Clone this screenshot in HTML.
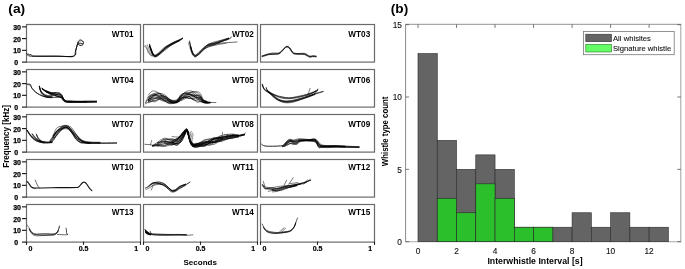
<!DOCTYPE html>
<html><head><meta charset="utf-8"><style>
html,body{margin:0;padding:0;background:#fff;overflow:hidden;}
svg{display:block;will-change:transform;}
text{font-family:"Liberation Sans",sans-serif;fill:#000;}
.yt{font-size:7px;font-weight:bold;fill:#000;stroke:#000;stroke-width:0.25px;}
.xt{font-size:7px;font-weight:bold;fill:#000;stroke:#000;stroke-width:0.2px;}
.wt{font-size:8.2px;font-weight:bold;}
.bt{font-size:8.3px;fill:#111;stroke:#111;stroke-width:0.12px;}
.lg{font-size:7.9px;fill:#111;stroke:#111;stroke-width:0.1px;}
.pl{font-size:13.2px;font-weight:bold;}
.ax{font-size:8.6px;font-weight:bold;}
</style></head><body>
<svg width="685" height="269" viewBox="0 0 685 269">
<rect width="685" height="269" fill="#fff"/>
<rect x="26.5" y="24.5" width="114.0" height="37.6" fill="none" stroke="#6a6a6a" stroke-width="1.2"/>
<rect x="143.5" y="24.5" width="114.0" height="37.6" fill="none" stroke="#6a6a6a" stroke-width="1.2"/>
<rect x="260.5" y="24.5" width="114.0" height="37.6" fill="none" stroke="#6a6a6a" stroke-width="1.2"/>
<rect x="26.5" y="69.5" width="114.0" height="37.6" fill="none" stroke="#6a6a6a" stroke-width="1.2"/>
<rect x="143.5" y="69.5" width="114.0" height="37.6" fill="none" stroke="#6a6a6a" stroke-width="1.2"/>
<rect x="260.5" y="69.5" width="114.0" height="37.6" fill="none" stroke="#6a6a6a" stroke-width="1.2"/>
<rect x="26.5" y="114.5" width="114.0" height="37.6" fill="none" stroke="#6a6a6a" stroke-width="1.2"/>
<rect x="143.5" y="114.5" width="114.0" height="37.6" fill="none" stroke="#6a6a6a" stroke-width="1.2"/>
<rect x="260.5" y="114.5" width="114.0" height="37.6" fill="none" stroke="#6a6a6a" stroke-width="1.2"/>
<rect x="26.5" y="159.5" width="114.0" height="37.6" fill="none" stroke="#6a6a6a" stroke-width="1.2"/>
<rect x="143.5" y="159.5" width="114.0" height="37.6" fill="none" stroke="#6a6a6a" stroke-width="1.2"/>
<rect x="260.5" y="159.5" width="114.0" height="37.6" fill="none" stroke="#6a6a6a" stroke-width="1.2"/>
<rect x="26.5" y="204.5" width="114.0" height="37.6" fill="none" stroke="#6a6a6a" stroke-width="1.2"/>
<rect x="143.5" y="204.5" width="114.0" height="37.6" fill="none" stroke="#6a6a6a" stroke-width="1.2"/>
<rect x="260.5" y="204.5" width="114.0" height="37.6" fill="none" stroke="#6a6a6a" stroke-width="1.2"/>
<line x1="22" y1="62.10" x2="26.5" y2="62.10" stroke="#1a1a1a" stroke-width="1.15"/>
<text x="14.2" y="65.10" class="yt" text-anchor="start">0</text>
<line x1="22" y1="50.35" x2="26.5" y2="50.35" stroke="#1a1a1a" stroke-width="1.15"/>
<text x="21" y="53.45" class="yt" text-anchor="end">10</text>
<line x1="22" y1="38.60" x2="26.5" y2="38.60" stroke="#1a1a1a" stroke-width="1.15"/>
<text x="21" y="41.70" class="yt" text-anchor="end">20</text>
<line x1="22" y1="26.85" x2="26.5" y2="26.85" stroke="#1a1a1a" stroke-width="1.15"/>
<text x="21" y="29.95" class="yt" text-anchor="end">30</text>
<line x1="22" y1="107.10" x2="26.5" y2="107.10" stroke="#1a1a1a" stroke-width="1.15"/>
<text x="14.2" y="110.10" class="yt" text-anchor="start">0</text>
<line x1="22" y1="95.35" x2="26.5" y2="95.35" stroke="#1a1a1a" stroke-width="1.15"/>
<text x="21" y="98.45" class="yt" text-anchor="end">10</text>
<line x1="22" y1="83.60" x2="26.5" y2="83.60" stroke="#1a1a1a" stroke-width="1.15"/>
<text x="21" y="86.70" class="yt" text-anchor="end">20</text>
<line x1="22" y1="71.85" x2="26.5" y2="71.85" stroke="#1a1a1a" stroke-width="1.15"/>
<text x="21" y="74.95" class="yt" text-anchor="end">30</text>
<line x1="22" y1="152.10" x2="26.5" y2="152.10" stroke="#1a1a1a" stroke-width="1.15"/>
<text x="14.2" y="155.10" class="yt" text-anchor="start">0</text>
<line x1="22" y1="140.35" x2="26.5" y2="140.35" stroke="#1a1a1a" stroke-width="1.15"/>
<text x="21" y="143.45" class="yt" text-anchor="end">10</text>
<line x1="22" y1="128.60" x2="26.5" y2="128.60" stroke="#1a1a1a" stroke-width="1.15"/>
<text x="21" y="131.70" class="yt" text-anchor="end">20</text>
<line x1="22" y1="116.85" x2="26.5" y2="116.85" stroke="#1a1a1a" stroke-width="1.15"/>
<text x="21" y="119.95" class="yt" text-anchor="end">30</text>
<line x1="22" y1="197.10" x2="26.5" y2="197.10" stroke="#1a1a1a" stroke-width="1.15"/>
<text x="14.2" y="200.10" class="yt" text-anchor="start">0</text>
<line x1="22" y1="185.35" x2="26.5" y2="185.35" stroke="#1a1a1a" stroke-width="1.15"/>
<text x="21" y="188.45" class="yt" text-anchor="end">10</text>
<line x1="22" y1="173.60" x2="26.5" y2="173.60" stroke="#1a1a1a" stroke-width="1.15"/>
<text x="21" y="176.70" class="yt" text-anchor="end">20</text>
<line x1="22" y1="161.85" x2="26.5" y2="161.85" stroke="#1a1a1a" stroke-width="1.15"/>
<text x="21" y="164.95" class="yt" text-anchor="end">30</text>
<line x1="22" y1="242.10" x2="26.5" y2="242.10" stroke="#1a1a1a" stroke-width="1.15"/>
<text x="14.2" y="245.10" class="yt" text-anchor="start">0</text>
<line x1="22" y1="230.35" x2="26.5" y2="230.35" stroke="#1a1a1a" stroke-width="1.15"/>
<text x="21" y="233.45" class="yt" text-anchor="end">10</text>
<line x1="22" y1="218.60" x2="26.5" y2="218.60" stroke="#1a1a1a" stroke-width="1.15"/>
<text x="21" y="221.70" class="yt" text-anchor="end">20</text>
<line x1="22" y1="206.85" x2="26.5" y2="206.85" stroke="#1a1a1a" stroke-width="1.15"/>
<text x="21" y="209.95" class="yt" text-anchor="end">30</text>
<line x1="26.50" y1="241.60" x2="26.50" y2="244.90" stroke="#222" stroke-width="1.1"/>
<line x1="83.50" y1="241.60" x2="83.50" y2="244.90" stroke="#222" stroke-width="1.1"/>
<line x1="140.50" y1="241.60" x2="140.50" y2="244.90" stroke="#222" stroke-width="1.1"/>
<text x="30.5" y="250.6" class="xt" text-anchor="middle">0</text>
<text x="83.5" y="250.6" class="xt" text-anchor="middle">0.5</text>
<text x="136.3" y="250.6" class="xt" text-anchor="middle">1</text>
<line x1="143.50" y1="241.60" x2="143.50" y2="244.90" stroke="#222" stroke-width="1.1"/>
<line x1="200.50" y1="241.60" x2="200.50" y2="244.90" stroke="#222" stroke-width="1.1"/>
<line x1="257.50" y1="241.60" x2="257.50" y2="244.90" stroke="#222" stroke-width="1.1"/>
<text x="147.5" y="250.6" class="xt" text-anchor="middle">0</text>
<text x="200.5" y="250.6" class="xt" text-anchor="middle">0.5</text>
<text x="253.3" y="250.6" class="xt" text-anchor="middle">1</text>
<line x1="260.50" y1="241.60" x2="260.50" y2="244.90" stroke="#222" stroke-width="1.1"/>
<line x1="317.50" y1="241.60" x2="317.50" y2="244.90" stroke="#222" stroke-width="1.1"/>
<line x1="374.50" y1="241.60" x2="374.50" y2="244.90" stroke="#222" stroke-width="1.1"/>
<text x="264.5" y="250.6" class="xt" text-anchor="middle">0</text>
<text x="317.5" y="250.6" class="xt" text-anchor="middle">0.5</text>
<text x="370.3" y="250.6" class="xt" text-anchor="middle">1</text>
<path d="M26.80 53.40 C26.97 53.63 27.47 54.72 27.80 54.80 C28.13 54.88 28.47 53.83 28.80 53.90 C29.13 53.97 29.47 55.13 29.80 55.20 C30.13 55.27 30.47 54.23 30.80 54.30 C31.13 54.37 31.35 55.32 31.80 55.60 C32.25 55.88 32.13 55.92 33.50 56.00 C34.87 56.08 36.42 56.08 40.00 56.10 C43.58 56.12 49.40 56.10 55.00 56.10 C60.60 56.10 70.13 57.07 73.60 56.10 C77.07 55.13 75.20 52.17 75.80 50.30 C76.40 48.43 76.82 46.32 77.20 44.90 C77.58 43.48 77.73 42.57 78.10 41.80 C78.47 41.03 78.97 40.60 79.40 40.30 C79.83 40.00 80.18 39.90 80.70 40.00 C81.22 40.10 82.05 40.45 82.50 40.90 C82.95 41.35 83.32 42.10 83.40 42.70 C83.48 43.30 83.37 44.05 83.00 44.50 C82.63 44.95 81.88 45.33 81.20 45.40 C80.52 45.47 79.35 45.20 78.90 44.90 C78.45 44.60 78.20 43.87 78.50 43.60 C78.80 43.33 80.03 43.27 80.70 43.30 C81.37 43.33 82.20 43.72 82.50 43.80" fill="none" stroke="#000" stroke-width="0.90" stroke-linejoin="round" stroke-linecap="round"/>
<path d="M28.00 55.30 C28.83 55.47 27.67 56.13 33.00 56.30 C38.33 56.47 53.28 56.28 60.00 56.30 C66.72 56.32 70.72 57.28 73.30 56.40 C75.88 55.52 74.88 52.77 75.50 51.00 C76.12 49.23 76.48 47.22 77.00 45.80 C77.52 44.38 78.33 43.05 78.60 42.50" fill="none" stroke="#000" stroke-width="0.80" stroke-linejoin="round" stroke-linecap="round"/>
<path d="M77.80 43.20 C78.08 42.88 78.88 41.67 79.50 41.30 C80.12 40.93 80.78 40.88 81.50 41.00 C82.22 41.12 83.42 41.83 83.80 42.00" fill="none" stroke="#444" stroke-width="0.50" stroke-linejoin="round" stroke-linecap="round"/>
<path d="M149.50 44.10 C149.72 44.72 150.33 46.51 150.80 47.81 C151.27 49.11 151.80 50.82 152.30 51.91 C152.80 53.00 153.27 53.84 153.80 54.35 C154.33 54.86 154.80 55.08 155.50 54.96 C156.20 54.84 157.17 54.19 158.00 53.63 C158.83 53.08 159.28 52.67 160.50 51.61 C161.72 50.56 163.57 48.67 165.30 47.32 C167.03 45.97 169.23 44.50 170.90 43.51 C172.57 42.52 173.82 42.03 175.30 41.38 C176.78 40.74 178.58 40.15 179.80 39.62 C181.02 39.10 182.13 38.46 182.60 38.23" fill="none" stroke="#000" stroke-width="0.50" stroke-linejoin="round" stroke-linecap="round"/>
<path d="M150.80 48.79 C151.05 49.47 151.80 51.79 152.30 52.87 C152.80 53.95 153.27 54.78 153.80 55.25 C154.33 55.72 154.80 55.94 155.50 55.70 C156.20 55.46 157.17 54.59 158.00 53.79 C158.83 52.98 159.28 52.07 160.50 50.88 C161.72 49.69 163.57 47.72 165.30 46.63 C167.03 45.53 169.23 45.06 170.90 44.31 C172.57 43.57 173.82 42.93 175.30 42.14 C176.78 41.36 178.58 40.30 179.80 39.60 C181.02 38.90 182.13 38.23 182.60 37.95" fill="none" stroke="#000" stroke-width="0.50" stroke-linejoin="round" stroke-linecap="round"/>
<path d="M149.50 44.61 C149.72 45.26 150.33 47.16 150.80 48.51 C151.27 49.86 151.80 51.58 152.30 52.70 C152.80 53.82 153.27 54.69 153.80 55.24 C154.33 55.79 154.80 56.06 155.50 55.98 C156.20 55.91 157.17 55.36 158.00 54.79 C158.83 54.22 159.28 53.75 160.50 52.57 C161.72 51.38 163.57 49.13 165.30 47.69 C167.03 46.26 169.23 44.93 170.90 43.94 C172.57 42.96 173.82 42.47 175.30 41.78 C176.78 41.10 179.05 40.17 179.80 39.84" fill="none" stroke="#000" stroke-width="0.50" stroke-linejoin="round" stroke-linecap="round"/>
<path d="M149.50 44.71 C149.72 45.32 150.33 47.09 150.80 48.36 C151.27 49.63 151.80 51.28 152.30 52.34 C152.80 53.41 153.27 54.24 153.80 54.74 C154.33 55.24 154.80 55.46 155.50 55.37 C156.20 55.27 157.17 54.68 158.00 54.17 C158.83 53.66 159.28 53.33 160.50 52.30 C161.72 51.26 163.57 49.36 165.30 47.97 C167.03 46.58 169.23 44.99 170.90 43.96 C172.57 42.93 173.82 42.45 175.30 41.79 C176.78 41.12 178.58 40.50 179.80 39.95 C181.02 39.39 182.13 38.71 182.60 38.46" fill="none" stroke="#000" stroke-width="0.50" stroke-linejoin="round" stroke-linecap="round"/>
<path d="M150.80 49.41 C151.05 50.02 151.80 52.13 152.30 53.11 C152.80 54.08 153.27 54.83 153.80 55.25 C154.33 55.68 154.80 55.80 155.50 55.67 C156.20 55.53 157.17 54.90 158.00 54.43 C158.83 53.96 159.28 53.88 160.50 52.86 C161.72 51.83 163.57 49.69 165.30 48.27 C167.03 46.85 169.23 45.27 170.90 44.34 C172.57 43.41 173.82 43.40 175.30 42.69 C176.78 41.98 179.05 40.51 179.80 40.08" fill="none" stroke="#000" stroke-width="0.50" stroke-linejoin="round" stroke-linecap="round"/>
<path d="M149.50 45.56 C149.72 46.22 150.33 48.16 150.80 49.49 C151.27 50.82 151.80 52.46 152.30 53.56 C152.80 54.65 153.27 55.51 153.80 56.06 C154.33 56.61 154.80 56.89 155.50 56.84 C156.20 56.79 157.17 56.33 158.00 55.78 C158.83 55.23 159.28 54.78 160.50 53.55 C161.72 52.33 163.57 49.94 165.30 48.45 C167.03 46.96 169.23 45.63 170.90 44.61 C172.57 43.59 173.82 43.08 175.30 42.35 C176.78 41.62 178.58 40.85 179.80 40.24 C181.02 39.63 182.13 38.96 182.60 38.70" fill="none" stroke="#000" stroke-width="0.50" stroke-linejoin="round" stroke-linecap="round"/>
<path d="M149.50 45.95 C149.72 46.57 150.33 48.41 150.80 49.66 C151.27 50.91 151.80 52.45 152.30 53.46 C152.80 54.48 153.27 55.27 153.80 55.73 C154.33 56.19 154.80 56.39 155.50 56.21 C156.20 56.02 157.17 55.29 158.00 54.63 C158.83 53.96 159.28 53.30 160.50 52.22 C161.72 51.13 163.57 49.29 165.30 48.14 C167.03 46.98 169.23 46.17 170.90 45.30 C172.57 44.44 173.82 43.78 175.30 42.95 C176.78 42.12 178.58 41.05 179.80 40.32 C181.02 39.58 182.13 38.83 182.60 38.53" fill="none" stroke="#000" stroke-width="0.50" stroke-linejoin="round" stroke-linecap="round"/>
<path d="M149.50 46.23 C149.72 46.86 150.33 48.79 150.80 50.06 C151.27 51.33 151.80 52.85 152.30 53.85 C152.80 54.85 153.27 55.62 153.80 56.06 C154.33 56.49 154.80 56.65 155.50 56.44 C156.20 56.24 157.17 55.44 158.00 54.83 C158.83 54.21 159.28 53.68 160.50 52.75 C161.72 51.82 163.57 50.51 165.30 49.24 C167.03 47.98 169.23 46.29 170.90 45.16 C172.57 44.02 173.82 43.22 175.30 42.44 C176.78 41.65 179.05 40.78 179.80 40.45" fill="none" stroke="#000" stroke-width="0.50" stroke-linejoin="round" stroke-linecap="round"/>
<path d="M149.50 46.75 C149.72 47.37 150.33 49.22 150.80 50.45 C151.27 51.67 151.80 53.12 152.30 54.10 C152.80 55.07 153.27 55.83 153.80 56.27 C154.33 56.71 154.80 56.88 155.50 56.75 C156.20 56.63 157.17 56.01 158.00 55.52 C158.83 55.03 159.28 54.75 160.50 53.83 C161.72 52.91 163.57 51.38 165.30 49.99 C167.03 48.60 169.23 46.69 170.90 45.51 C172.57 44.32 173.82 43.66 175.30 42.87 C176.78 42.09 179.05 41.13 179.80 40.78" fill="none" stroke="#000" stroke-width="0.50" stroke-linejoin="round" stroke-linecap="round"/>
<path d="M144.10 46.20 C144.47 46.47 145.65 46.78 146.30 47.80 C146.95 48.82 147.25 51.00 148.00 52.30 C148.75 53.60 149.88 54.95 150.80 55.60 C151.72 56.25 153.05 56.10 153.50 56.20" fill="none" stroke="#333" stroke-width="0.50" stroke-linejoin="round" stroke-linecap="round"/>
<path d="M145.50 45.30 C145.78 45.83 146.62 47.25 147.20 48.50 C147.78 49.75 148.28 51.58 149.00 52.80 C149.72 54.02 151.08 55.30 151.50 55.80" fill="none" stroke="#222" stroke-width="0.50" stroke-linejoin="round" stroke-linecap="round"/>
<path d="M147.20 44.80 C147.43 45.42 148.08 47.13 148.60 48.50 C149.12 49.87 149.60 51.77 150.30 53.00 C151.00 54.23 152.38 55.42 152.80 55.90" fill="none" stroke="#222" stroke-width="0.50" stroke-linejoin="round" stroke-linecap="round"/>
<path d="M189.50 40.89 C189.68 41.73 190.15 44.14 190.60 45.94 C191.05 47.75 191.65 50.27 192.20 51.71 C192.75 53.16 193.33 54.03 193.90 54.61 C194.47 55.20 194.67 55.80 195.60 55.24 C196.53 54.69 198.10 52.61 199.50 51.31 C200.90 50.01 202.52 48.58 204.00 47.42 C205.48 46.26 206.73 45.25 208.40 44.35 C210.07 43.45 211.77 42.72 214.00 42.02 C216.23 41.32 219.38 40.81 221.80 40.15 C224.22 39.50 227.38 38.42 228.50 38.08" fill="none" stroke="#000" stroke-width="0.50" stroke-linejoin="round" stroke-linecap="round"/>
<path d="M190.60 46.16 C190.87 47.05 191.65 50.15 192.20 51.50 C192.75 52.86 193.33 53.67 193.90 54.30 C194.47 54.93 194.67 55.52 195.60 55.28 C196.53 55.03 198.10 54.06 199.50 52.83 C200.90 51.59 202.52 49.29 204.00 47.85 C205.48 46.41 206.73 44.92 208.40 44.18 C210.07 43.44 211.77 44.07 214.00 43.41 C216.23 42.74 219.38 41.00 221.80 40.19 C224.22 39.38 227.38 38.82 228.50 38.54" fill="none" stroke="#000" stroke-width="0.50" stroke-linejoin="round" stroke-linecap="round"/>
<path d="M190.60 46.19 C190.87 47.09 191.65 50.23 192.20 51.60 C192.75 52.96 193.33 53.77 193.90 54.39 C194.47 55.00 194.67 55.57 195.60 55.30 C196.53 55.04 198.10 53.92 199.50 52.78 C200.90 51.63 202.52 49.78 204.00 48.41 C205.48 47.04 206.73 45.51 208.40 44.57 C210.07 43.63 211.77 43.37 214.00 42.78 C216.23 42.19 219.38 41.80 221.80 41.04 C224.22 40.27 227.38 38.64 228.50 38.17" fill="none" stroke="#000" stroke-width="0.50" stroke-linejoin="round" stroke-linecap="round"/>
<path d="M189.50 41.82 C189.68 42.67 190.15 45.10 190.60 46.89 C191.05 48.68 191.65 51.14 192.20 52.54 C192.75 53.94 193.33 54.72 193.90 55.29 C194.47 55.87 194.67 56.44 195.60 55.98 C196.53 55.51 198.10 53.90 199.50 52.51 C200.90 51.12 202.52 48.91 204.00 47.64 C205.48 46.37 206.73 45.53 208.40 44.88 C210.07 44.23 211.77 44.42 214.00 43.75 C216.23 43.08 219.38 41.76 221.80 40.84 C224.22 39.93 227.38 38.69 228.50 38.26" fill="none" stroke="#000" stroke-width="0.50" stroke-linejoin="round" stroke-linecap="round"/>
<path d="M189.50 41.72 C189.68 42.57 190.15 44.99 190.60 46.80 C191.05 48.61 191.65 51.11 192.20 52.57 C192.75 54.03 193.33 54.89 193.90 55.54 C194.47 56.19 194.67 56.78 195.60 56.48 C196.53 56.18 198.10 55.02 199.50 53.76 C200.90 52.50 202.52 50.35 204.00 48.94 C205.48 47.53 206.73 46.20 208.40 45.29 C210.07 44.38 211.77 44.09 214.00 43.48 C216.23 42.88 219.38 42.41 221.80 41.65 C224.22 40.88 227.38 39.34 228.50 38.88" fill="none" stroke="#000" stroke-width="0.50" stroke-linejoin="round" stroke-linecap="round"/>
<path d="M190.60 47.50 C190.87 48.40 191.65 51.59 192.20 52.91 C192.75 54.24 193.33 54.90 193.90 55.45 C194.47 55.99 194.67 56.43 195.60 56.19 C196.53 55.95 198.10 55.12 199.50 54.02 C200.90 52.91 202.52 50.93 204.00 49.54 C205.48 48.16 206.73 46.48 208.40 45.69 C210.07 44.91 211.77 45.56 214.00 44.83 C216.23 44.10 219.38 42.24 221.80 41.31 C224.22 40.38 226.92 39.94 228.50 39.24 C230.08 38.54 230.83 37.47 231.30 37.11" fill="none" stroke="#000" stroke-width="0.50" stroke-linejoin="round" stroke-linecap="round"/>
<path d="M190.60 47.73 C190.87 48.69 191.65 52.10 192.20 53.52 C192.75 54.95 193.33 55.70 193.90 56.27 C194.47 56.83 194.67 57.36 195.60 56.92 C196.53 56.47 198.10 54.91 199.50 53.60 C200.90 52.29 202.52 50.23 204.00 49.07 C205.48 47.90 206.73 47.31 208.40 46.63 C210.07 45.94 211.77 45.82 214.00 44.96 C216.23 44.09 219.38 42.39 221.80 41.43 C224.22 40.47 226.92 39.89 228.50 39.21 C230.08 38.53 230.83 37.66 231.30 37.35" fill="none" stroke="#000" stroke-width="0.50" stroke-linejoin="round" stroke-linecap="round"/>
<path d="M188.30 42.80 C188.55 43.58 189.27 45.88 189.80 47.50 C190.33 49.12 190.88 51.17 191.50 52.50 C192.12 53.83 193.17 55.00 193.50 55.50" fill="none" stroke="#333" stroke-width="0.50" stroke-linejoin="round" stroke-linecap="round"/>
<path d="M208.40 45.80 C209.33 45.55 211.58 44.77 214.00 44.30 C216.42 43.83 219.08 43.38 222.90 43.00 C226.72 42.62 234.57 42.17 236.90 42.00" fill="none" stroke="#000" stroke-width="0.60" stroke-linejoin="round" stroke-linecap="round"/>
<path d="M204.00 49.20 C205.00 48.75 207.67 47.27 210.00 46.50 C212.33 45.73 215.33 45.13 218.00 44.60 C220.67 44.07 224.67 43.52 226.00 43.30" fill="none" stroke="#000" stroke-width="0.50" stroke-linejoin="round" stroke-linecap="round"/>
<path d="M262.20 55.90 C262.72 55.73 264.20 55.22 265.30 54.87 C266.40 54.51 267.50 54.06 268.80 53.77 C270.10 53.48 271.65 53.20 273.10 53.10 C274.55 53.01 276.33 53.31 277.50 53.21 C278.67 53.11 279.22 53.06 280.10 52.50 C280.98 51.95 281.92 50.79 282.80 49.88 C283.68 48.98 284.60 47.64 285.40 47.05 C286.20 46.47 286.87 46.22 287.60 46.35 C288.33 46.49 289.15 47.14 289.80 47.84 C290.45 48.55 290.92 49.78 291.50 50.61 C292.08 51.43 292.42 52.31 293.30 52.80 C294.18 53.30 295.48 53.48 296.80 53.57 C298.12 53.66 299.88 53.38 301.20 53.35 C302.52 53.33 303.68 53.19 304.70 53.42 C305.72 53.65 306.43 54.26 307.30 54.73 C308.17 55.20 309.02 56.04 309.90 56.24 C310.78 56.44 311.57 55.93 312.60 55.92 C313.63 55.91 315.52 56.13 316.10 56.18" fill="none" stroke="#000" stroke-width="0.70" stroke-linejoin="round" stroke-linecap="round"/>
<path d="M262.20 56.18 C262.72 56.02 264.20 55.48 265.30 55.18 C266.40 54.88 267.50 54.59 268.80 54.38 C270.10 54.18 271.65 54.09 273.10 53.96 C274.55 53.83 276.33 53.83 277.50 53.61 C278.67 53.39 279.22 53.25 280.10 52.64 C280.98 52.03 281.92 50.88 282.80 49.98 C283.68 49.08 284.60 47.81 285.40 47.25 C286.20 46.70 286.87 46.50 287.60 46.65 C288.33 46.81 289.15 47.47 289.80 48.18 C290.45 48.89 290.92 50.10 291.50 50.92 C292.08 51.73 292.42 52.57 293.30 53.06 C294.18 53.56 295.48 53.72 296.80 53.87 C298.12 54.02 299.88 53.91 301.20 53.96 C302.52 54.00 303.68 53.90 304.70 54.14 C305.72 54.38 306.43 54.98 307.30 55.39 C308.17 55.80 309.02 56.48 309.90 56.59 C310.78 56.71 311.57 56.12 312.60 56.08 C313.63 56.04 315.52 56.31 316.10 56.36" fill="none" stroke="#000" stroke-width="0.70" stroke-linejoin="round" stroke-linecap="round"/>
<path d="M262.20 56.73 C262.72 56.56 264.20 56.04 265.30 55.69 C266.40 55.33 267.50 54.85 268.80 54.62 C270.10 54.40 271.65 54.40 273.10 54.34 C274.55 54.28 276.33 54.47 277.50 54.27 C278.67 54.08 279.22 53.80 280.10 53.15 C280.98 52.51 281.92 51.32 282.80 50.40 C283.68 49.49 284.60 48.21 285.40 47.67 C286.20 47.13 286.87 46.97 287.60 47.16 C288.33 47.34 289.15 48.05 289.80 48.78 C290.45 49.51 290.92 50.73 291.50 51.54 C292.08 52.34 292.42 53.17 293.30 53.62 C294.18 54.06 295.48 54.12 296.80 54.21 C298.12 54.31 299.88 54.12 301.20 54.18 C302.52 54.25 303.68 54.31 304.70 54.62 C305.72 54.94 306.43 55.66 307.30 56.10 C308.17 56.53 309.02 57.13 309.90 57.22 C310.78 57.31 311.57 56.68 312.60 56.62 C313.63 56.55 315.52 56.79 316.10 56.82" fill="none" stroke="#000" stroke-width="0.70" stroke-linejoin="round" stroke-linecap="round"/>
<path d="M27.10 84.10 C27.67 84.17 29.82 84.03 30.50 84.50 C31.18 84.97 30.65 85.93 31.20 86.90 C31.75 87.87 32.80 89.27 33.80 90.30 C34.80 91.33 35.90 92.22 37.20 93.10 C38.50 93.98 40.12 94.95 41.60 95.60 C43.08 96.25 44.43 96.70 46.10 97.00 C47.77 97.30 49.78 97.37 51.60 97.40 C53.42 97.43 55.43 97.17 57.00 97.20 C58.57 97.23 60.33 97.53 61.00 97.60" fill="none" stroke="#000" stroke-width="0.80" stroke-linejoin="round" stroke-linecap="round"/>
<path d="M27.50 84.60 C27.97 84.72 29.55 84.65 30.30 85.30 C31.05 85.95 31.22 87.42 32.00 88.50 C32.78 89.58 33.83 90.80 35.00 91.80 C36.17 92.80 37.50 93.72 39.00 94.50 C40.50 95.28 42.17 96.00 44.00 96.50 C45.83 97.00 49.00 97.33 50.00 97.50" fill="none" stroke="#000" stroke-width="0.50" stroke-linejoin="round" stroke-linecap="round"/>
<path d="M39.40 86.06 C39.55 86.62 39.95 88.47 40.30 89.39 C40.65 90.32 40.88 90.84 41.50 91.60 C42.12 92.37 42.92 93.32 44.00 93.99 C45.08 94.66 46.67 95.37 48.00 95.62 C49.33 95.88 51.33 95.53 52.00 95.52" fill="none" stroke="#000" stroke-width="0.55" stroke-linejoin="round" stroke-linecap="round"/>
<path d="M39.40 86.23 C39.55 86.81 39.95 88.75 40.30 89.75 C40.65 90.75 40.88 91.37 41.50 92.22 C42.12 93.08 42.92 94.18 44.00 94.86 C45.08 95.55 46.67 96.09 48.00 96.33 C49.33 96.58 51.33 96.35 52.00 96.35" fill="none" stroke="#000" stroke-width="0.55" stroke-linejoin="round" stroke-linecap="round"/>
<path d="M39.40 86.34 C39.55 86.95 39.95 88.93 40.30 89.97 C40.65 91.00 40.88 91.68 41.50 92.56 C42.12 93.44 42.92 94.63 44.00 95.25 C45.08 95.87 46.67 96.16 48.00 96.29 C49.33 96.43 51.33 96.10 52.00 96.07" fill="none" stroke="#000" stroke-width="0.55" stroke-linejoin="round" stroke-linecap="round"/>
<path d="M39.40 86.51 C39.55 87.11 39.95 89.11 40.30 90.11 C40.65 91.11 40.88 91.72 41.50 92.53 C42.12 93.34 42.92 94.25 44.00 94.98 C45.08 95.71 46.67 96.54 48.00 96.90 C49.33 97.26 51.33 97.11 52.00 97.15" fill="none" stroke="#000" stroke-width="0.55" stroke-linejoin="round" stroke-linecap="round"/>
<path d="M39.40 86.84 C39.55 87.50 39.95 89.64 40.30 90.76 C40.65 91.89 40.88 92.66 41.50 93.59 C42.12 94.52 42.92 95.69 44.00 96.35 C45.08 97.00 46.67 97.30 48.00 97.53 C49.33 97.76 51.33 97.69 52.00 97.73" fill="none" stroke="#000" stroke-width="0.55" stroke-linejoin="round" stroke-linecap="round"/>
<path d="M46.10 90.64 C47.02 91.00 50.12 92.47 51.60 92.78 C53.08 93.10 54.07 92.54 55.00 92.52 C55.93 92.50 56.45 92.58 57.20 92.64 C57.95 92.71 58.75 92.51 59.50 92.90 C60.25 93.28 61.05 94.03 61.70 94.95 C62.35 95.87 62.75 97.46 63.40 98.41 C64.05 99.36 64.40 100.23 65.60 100.65 C66.80 101.07 68.20 100.81 70.60 100.93 C73.00 101.06 77.43 101.36 80.00 101.38 C82.57 101.40 83.25 101.10 86.00 101.06 C88.75 101.02 94.75 101.12 96.50 101.13" fill="none" stroke="#000" stroke-width="0.55" stroke-linejoin="round" stroke-linecap="round"/>
<path d="M42.20 88.24 C42.85 88.70 44.53 90.22 46.10 90.96 C47.67 91.69 50.12 92.41 51.60 92.66 C53.08 92.91 54.07 92.43 55.00 92.46 C55.93 92.49 56.45 92.71 57.20 92.84 C57.95 92.97 58.75 92.83 59.50 93.22 C60.25 93.61 61.05 94.29 61.70 95.18 C62.35 96.06 62.75 97.60 63.40 98.53 C64.05 99.46 64.40 100.34 65.60 100.76 C66.80 101.19 68.20 100.98 70.60 101.09 C73.00 101.20 77.43 101.38 80.00 101.42 C82.57 101.46 83.25 101.34 86.00 101.32 C88.75 101.29 94.75 101.28 96.50 101.27" fill="none" stroke="#000" stroke-width="0.55" stroke-linejoin="round" stroke-linecap="round"/>
<path d="M42.20 88.43 C42.85 88.90 44.53 90.47 46.10 91.25 C47.67 92.04 50.12 92.81 51.60 93.13 C53.08 93.45 54.07 93.11 55.00 93.18 C55.93 93.25 56.45 93.45 57.20 93.54 C57.95 93.62 58.75 93.38 59.50 93.70 C60.25 94.01 61.05 94.60 61.70 95.44 C62.35 96.28 62.75 97.81 63.40 98.74 C64.05 99.67 64.40 100.54 65.60 101.02 C66.80 101.51 68.20 101.57 70.60 101.63 C73.00 101.68 77.43 101.35 80.00 101.34 C82.57 101.34 85.00 101.55 86.00 101.59" fill="none" stroke="#000" stroke-width="0.55" stroke-linejoin="round" stroke-linecap="round"/>
<path d="M46.10 90.95 C47.02 91.36 50.12 92.86 51.60 93.40 C53.08 93.94 54.07 94.01 55.00 94.20 C55.93 94.39 56.45 94.55 57.20 94.55 C57.95 94.55 58.75 94.06 59.50 94.21 C60.25 94.35 61.05 94.68 61.70 95.41 C62.35 96.14 62.75 97.64 63.40 98.56 C64.05 99.48 64.40 100.40 65.60 100.93 C66.80 101.47 68.20 101.68 70.60 101.77 C73.00 101.86 77.43 101.47 80.00 101.48 C82.57 101.48 85.00 101.73 86.00 101.78" fill="none" stroke="#000" stroke-width="0.55" stroke-linejoin="round" stroke-linecap="round"/>
<path d="M42.20 88.63 C42.85 89.06 44.53 90.50 46.10 91.25 C47.67 91.99 50.12 92.65 51.60 93.09 C53.08 93.53 54.07 93.59 55.00 93.88 C55.93 94.17 56.45 94.61 57.20 94.86 C57.95 95.11 58.75 95.03 59.50 95.37 C60.25 95.71 61.05 96.19 61.70 96.89 C62.35 97.59 62.75 98.85 63.40 99.59 C64.05 100.32 64.40 100.99 65.60 101.31 C66.80 101.64 68.20 101.47 70.60 101.54 C73.00 101.62 77.43 101.72 80.00 101.77 C82.57 101.83 83.25 101.94 86.00 101.87 C88.75 101.81 94.75 101.48 96.50 101.40" fill="none" stroke="#000" stroke-width="0.55" stroke-linejoin="round" stroke-linecap="round"/>
<path d="M46.10 91.41 C47.02 91.79 50.12 93.27 51.60 93.69 C53.08 94.10 54.07 93.81 55.00 93.90 C55.93 93.99 56.45 94.17 57.20 94.25 C57.95 94.33 58.75 94.07 59.50 94.38 C60.25 94.68 61.05 95.28 61.70 96.09 C62.35 96.90 62.75 98.37 63.40 99.25 C64.05 100.13 64.40 100.95 65.60 101.38 C66.80 101.81 68.20 101.79 70.60 101.83 C73.00 101.87 77.43 101.61 80.00 101.63 C82.57 101.64 85.00 101.85 86.00 101.90" fill="none" stroke="#000" stroke-width="0.55" stroke-linejoin="round" stroke-linecap="round"/>
<path d="M42.20 88.73 C42.85 89.22 44.53 90.85 46.10 91.68 C47.67 92.52 50.12 93.32 51.60 93.72 C53.08 94.13 54.07 93.97 55.00 94.13 C55.93 94.28 56.45 94.55 57.20 94.68 C57.95 94.80 58.75 94.59 59.50 94.89 C60.25 95.19 61.05 95.71 61.70 96.48 C62.35 97.24 62.75 98.62 63.40 99.46 C64.05 100.29 64.40 101.04 65.60 101.48 C66.80 101.92 68.20 102.04 70.60 102.09 C73.00 102.14 77.43 101.85 80.00 101.78 C82.57 101.72 85.00 101.72 86.00 101.71" fill="none" stroke="#000" stroke-width="0.55" stroke-linejoin="round" stroke-linecap="round"/>
<path d="M46.10 91.63 C47.02 92.08 50.12 93.69 51.60 94.33 C53.08 94.97 54.07 95.13 55.00 95.46 C55.93 95.79 56.45 96.14 57.20 96.31 C57.95 96.47 58.75 96.24 59.50 96.46 C60.25 96.67 61.05 97.00 61.70 97.60 C62.35 98.19 62.75 99.35 63.40 100.01 C64.05 100.68 64.40 101.28 65.60 101.59 C66.80 101.91 68.20 101.81 70.60 101.89 C73.00 101.96 77.43 101.98 80.00 102.03 C82.57 102.08 83.25 102.24 86.00 102.20 C88.75 102.16 94.75 101.86 96.50 101.79" fill="none" stroke="#000" stroke-width="0.55" stroke-linejoin="round" stroke-linecap="round"/>
<path d="M42.20 88.75 C42.85 89.21 44.53 90.62 46.10 91.52 C47.67 92.41 50.12 93.45 51.60 94.10 C53.08 94.76 54.07 95.07 55.00 95.45 C55.93 95.84 56.45 96.23 57.20 96.41 C57.95 96.59 58.75 96.34 59.50 96.52 C60.25 96.70 61.05 96.94 61.70 97.49 C62.35 98.05 62.75 99.19 63.40 99.85 C64.05 100.52 64.40 101.11 65.60 101.47 C66.80 101.83 68.20 101.92 70.60 102.03 C73.00 102.15 77.43 102.19 80.00 102.17 C82.57 102.15 83.25 101.94 86.00 101.90 C88.75 101.86 94.75 101.94 96.50 101.95" fill="none" stroke="#000" stroke-width="0.55" stroke-linejoin="round" stroke-linecap="round"/>
<path d="M42.20 88.80 C42.85 89.32 44.53 90.90 46.10 91.90 C47.67 92.90 50.12 94.23 51.60 94.78 C53.08 95.34 54.07 95.03 55.00 95.23 C55.93 95.43 56.45 95.74 57.20 96.00 C57.95 96.26 58.75 96.37 59.50 96.80 C60.25 97.23 61.05 97.91 61.70 98.60 C62.35 99.29 62.75 100.35 63.40 100.93 C64.05 101.51 64.40 101.88 65.60 102.10 C66.80 102.31 68.20 102.20 70.60 102.21 C73.00 102.22 77.43 102.14 80.00 102.17 C82.57 102.19 83.25 102.40 86.00 102.35 C88.75 102.31 94.75 101.97 96.50 101.89" fill="none" stroke="#000" stroke-width="0.55" stroke-linejoin="round" stroke-linecap="round"/>
<path d="M42.20 88.83 C42.85 89.36 44.53 91.05 46.10 92.03 C47.67 93.01 50.12 94.11 51.60 94.68 C53.08 95.26 54.07 95.26 55.00 95.49 C55.93 95.73 56.45 95.98 57.20 96.07 C57.95 96.17 58.75 95.87 59.50 96.08 C60.25 96.28 61.05 96.67 61.70 97.31 C62.35 97.96 62.75 99.21 63.40 99.94 C64.05 100.68 64.40 101.33 65.60 101.74 C66.80 102.14 68.20 102.27 70.60 102.36 C73.00 102.45 77.43 102.33 80.00 102.27 C82.57 102.22 83.25 102.10 86.00 102.05 C88.75 102.00 94.75 101.98 96.50 101.97" fill="none" stroke="#000" stroke-width="0.55" stroke-linejoin="round" stroke-linecap="round"/>
<path d="M148.30 95.08 C148.88 94.45 150.63 91.93 151.80 91.30 C152.97 90.67 154.00 90.93 155.30 91.30 C156.60 91.66 158.30 92.77 159.60 93.50 C160.90 94.23 161.93 95.04 163.10 95.68 C164.27 96.33 165.42 96.71 166.60 97.37 C167.78 98.03 168.88 99.14 170.20 99.64 C171.52 100.15 173.20 100.55 174.50 100.40 C175.80 100.26 176.97 99.70 178.00 98.77 C179.03 97.83 179.67 95.70 180.70 94.77 C181.73 93.85 182.90 93.52 184.20 93.22 C185.50 92.92 187.03 93.18 188.50 92.97 C189.97 92.77 191.50 92.21 193.00 91.99 C194.50 91.78 196.25 91.39 197.50 91.69 C198.75 91.99 199.53 92.48 200.50 93.77 C201.47 95.07 202.25 98.21 203.30 99.46 C204.35 100.72 206.22 100.99 206.80 101.29" fill="none" stroke="#000" stroke-width="0.50" stroke-linejoin="round" stroke-linecap="round"/>
<path d="M148.30 97.00 C148.88 96.75 150.63 95.87 151.80 95.49 C152.97 95.11 154.00 95.02 155.30 94.70 C156.60 94.39 158.30 93.72 159.60 93.60 C160.90 93.48 161.93 93.55 163.10 94.00 C164.27 94.45 165.42 95.32 166.60 96.32 C167.78 97.33 168.88 99.13 170.20 100.03 C171.52 100.93 173.20 101.67 174.50 101.73 C175.80 101.80 176.97 101.28 178.00 100.41 C179.03 99.54 179.67 97.75 180.70 96.49 C181.73 95.24 182.90 93.82 184.20 92.86 C185.50 91.91 187.03 90.94 188.50 90.75 C189.97 90.55 191.50 90.94 193.00 91.70 C194.50 92.45 196.25 94.27 197.50 95.28 C198.75 96.29 199.53 96.80 200.50 97.75 C201.47 98.70 202.25 100.34 203.30 100.96 C204.35 101.59 206.22 101.41 206.80 101.50" fill="none" stroke="#000" stroke-width="0.50" stroke-linejoin="round" stroke-linecap="round"/>
<path d="M148.30 97.80 C148.88 97.50 150.63 96.43 151.80 96.01 C152.97 95.59 154.00 95.39 155.30 95.26 C156.60 95.13 158.30 95.10 159.60 95.24 C160.90 95.38 161.93 95.73 163.10 96.11 C164.27 96.49 165.42 96.89 166.60 97.54 C167.78 98.19 168.88 99.44 170.20 100.01 C171.52 100.58 173.20 101.05 174.50 100.95 C175.80 100.85 176.97 100.30 178.00 99.42 C179.03 98.55 179.67 96.59 180.70 95.70 C181.73 94.81 182.90 94.30 184.20 94.08 C185.50 93.86 187.03 94.25 188.50 94.38 C189.97 94.51 191.50 94.72 193.00 94.86 C194.50 95.00 196.25 95.00 197.50 95.24 C198.75 95.47 199.53 95.45 200.50 96.26 C201.47 97.07 202.25 99.27 203.30 100.10 C204.35 100.92 206.22 101.03 206.80 101.21" fill="none" stroke="#000" stroke-width="0.50" stroke-linejoin="round" stroke-linecap="round"/>
<path d="M145.60 102.64 C146.05 101.63 147.27 97.92 148.30 96.61 C149.33 95.30 150.63 95.07 151.80 94.77 C152.97 94.47 154.00 94.74 155.30 94.81 C156.60 94.89 158.30 95.04 159.60 95.21 C160.90 95.38 161.93 95.51 163.10 95.82 C164.27 96.14 165.42 96.43 166.60 97.10 C167.78 97.76 168.88 99.13 170.20 99.82 C171.52 100.50 173.20 101.14 174.50 101.18 C175.80 101.23 176.97 100.79 178.00 100.08 C179.03 99.36 179.67 97.79 180.70 96.91 C181.73 96.03 182.90 95.43 184.20 94.79 C185.50 94.15 187.03 93.61 188.50 93.09 C189.97 92.57 191.50 91.71 193.00 91.69 C194.50 91.67 196.25 92.25 197.50 92.96 C198.75 93.68 199.53 94.68 200.50 95.99 C201.47 97.29 202.25 99.77 203.30 100.77 C204.35 101.78 205.68 101.79 206.80 102.03 C207.92 102.27 209.47 102.18 210.00 102.21" fill="none" stroke="#000" stroke-width="0.50" stroke-linejoin="round" stroke-linecap="round"/>
<path d="M148.30 99.59 C148.88 98.72 150.63 95.32 151.80 94.35 C152.97 93.37 154.00 93.36 155.30 93.75 C156.60 94.15 158.30 96.32 159.60 96.72 C160.90 97.12 161.93 96.04 163.10 96.17 C164.27 96.31 165.42 96.65 166.60 97.55 C167.78 98.45 168.88 100.80 170.20 101.57 C171.52 102.34 173.20 102.49 174.50 102.18 C175.80 101.86 176.97 100.68 178.00 99.67 C179.03 98.67 179.67 96.82 180.70 96.17 C181.73 95.52 182.90 96.20 184.20 95.77 C185.50 95.34 187.03 94.02 188.50 93.59 C189.97 93.16 191.50 92.48 193.00 93.17 C194.50 93.85 196.25 96.90 197.50 97.70 C198.75 98.50 199.53 97.51 200.50 97.96 C201.47 98.41 202.25 99.76 203.30 100.40 C204.35 101.05 205.68 101.50 206.80 101.83 C207.92 102.16 209.47 102.29 210.00 102.38" fill="none" stroke="#000" stroke-width="0.50" stroke-linejoin="round" stroke-linecap="round"/>
<path d="M148.30 99.52 C148.88 99.13 150.63 98.28 151.80 97.21 C152.97 96.13 154.00 93.64 155.30 93.06 C156.60 92.48 158.30 92.94 159.60 93.73 C160.90 94.52 161.93 96.90 163.10 97.82 C164.27 98.73 165.42 98.79 166.60 99.22 C167.78 99.65 168.88 100.00 170.20 100.41 C171.52 100.83 173.20 101.61 174.50 101.70 C175.80 101.79 176.97 101.68 178.00 100.97 C179.03 100.26 179.67 98.72 180.70 97.43 C181.73 96.14 182.90 93.97 184.20 93.23 C185.50 92.50 187.03 92.56 188.50 93.02 C189.97 93.49 191.50 95.68 193.00 96.02 C194.50 96.36 196.25 95.07 197.50 95.07 C198.75 95.06 199.53 95.01 200.50 95.97 C201.47 96.93 202.25 99.76 203.30 100.82 C204.35 101.87 205.68 102.07 206.80 102.31 C207.92 102.55 209.47 102.25 210.00 102.24" fill="none" stroke="#000" stroke-width="0.50" stroke-linejoin="round" stroke-linecap="round"/>
<path d="M148.30 100.18 C148.88 99.77 150.63 98.68 151.80 97.75 C152.97 96.82 154.00 95.35 155.30 94.61 C156.60 93.86 158.30 93.11 159.60 93.28 C160.90 93.44 161.93 94.63 163.10 95.59 C164.27 96.54 165.42 97.95 166.60 99.01 C167.78 100.06 168.88 101.37 170.20 101.94 C171.52 102.51 173.20 102.70 174.50 102.42 C175.80 102.15 176.97 101.38 178.00 100.29 C179.03 99.20 179.67 97.06 180.70 95.90 C181.73 94.73 182.90 93.58 184.20 93.29 C185.50 93.01 187.03 93.67 188.50 94.18 C189.97 94.69 191.50 95.89 193.00 96.38 C194.50 96.86 196.25 96.90 197.50 97.08 C198.75 97.25 199.53 96.84 200.50 97.41 C201.47 97.99 202.25 99.82 203.30 100.52 C204.35 101.22 206.22 101.42 206.80 101.60" fill="none" stroke="#000" stroke-width="0.50" stroke-linejoin="round" stroke-linecap="round"/>
<path d="M148.30 100.92 C148.88 100.73 150.63 100.27 151.80 99.80 C152.97 99.32 154.00 98.57 155.30 98.06 C156.60 97.55 158.30 96.91 159.60 96.76 C160.90 96.60 161.93 96.84 163.10 97.15 C164.27 97.46 165.42 97.93 166.60 98.60 C167.78 99.28 168.88 100.54 170.20 101.18 C171.52 101.81 173.20 102.35 174.50 102.39 C175.80 102.43 176.97 101.97 178.00 101.40 C179.03 100.83 179.67 99.67 180.70 98.96 C181.73 98.25 182.90 97.61 184.20 97.14 C185.50 96.67 187.03 96.45 188.50 96.13 C189.97 95.82 191.50 95.30 193.00 95.24 C194.50 95.19 196.25 95.38 197.50 95.79 C198.75 96.20 199.53 96.77 200.50 97.70 C201.47 98.63 202.25 100.57 203.30 101.35 C204.35 102.14 206.22 102.24 206.80 102.41" fill="none" stroke="#000" stroke-width="0.50" stroke-linejoin="round" stroke-linecap="round"/>
<path d="M148.30 100.18 C148.88 99.54 150.63 97.14 151.80 96.33 C152.97 95.52 154.00 95.05 155.30 95.32 C156.60 95.60 158.30 97.21 159.60 97.99 C160.90 98.77 161.93 99.63 163.10 100.00 C164.27 100.37 165.42 99.99 166.60 100.20 C167.78 100.42 168.88 100.98 170.20 101.32 C171.52 101.65 173.20 102.18 174.50 102.20 C175.80 102.23 176.97 101.95 178.00 101.47 C179.03 100.98 179.67 100.04 180.70 99.27 C181.73 98.49 182.90 97.60 184.20 96.81 C185.50 96.01 187.03 94.78 188.50 94.49 C189.97 94.19 191.50 94.29 193.00 95.04 C194.50 95.79 196.25 98.03 197.50 99.00 C198.75 99.98 199.53 100.34 200.50 100.87 C201.47 101.41 202.25 102.00 203.30 102.21 C204.35 102.42 206.22 102.16 206.80 102.15" fill="none" stroke="#000" stroke-width="0.50" stroke-linejoin="round" stroke-linecap="round"/>
<path d="M145.60 103.23 C146.05 102.54 147.27 99.88 148.30 99.07 C149.33 98.26 150.63 98.45 151.80 98.36 C152.97 98.27 154.00 98.56 155.30 98.54 C156.60 98.52 158.30 98.34 159.60 98.26 C160.90 98.18 161.93 97.97 163.10 98.07 C164.27 98.17 165.42 98.31 166.60 98.86 C167.78 99.41 168.88 100.72 170.20 101.38 C171.52 102.03 173.20 102.72 174.50 102.80 C175.80 102.88 176.97 102.46 178.00 101.85 C179.03 101.24 179.67 100.10 180.70 99.12 C181.73 98.15 182.90 96.85 184.20 96.02 C185.50 95.19 187.03 94.27 188.50 94.16 C189.97 94.04 191.50 94.52 193.00 95.33 C194.50 96.14 196.25 98.09 197.50 99.02 C198.75 99.95 199.53 100.34 200.50 100.89 C201.47 101.45 202.25 102.13 203.30 102.37 C204.35 102.60 206.22 102.33 206.80 102.33" fill="none" stroke="#000" stroke-width="0.50" stroke-linejoin="round" stroke-linecap="round"/>
<path d="M148.30 101.83 C148.88 101.28 150.63 99.51 151.80 98.53 C152.97 97.55 154.00 96.18 155.30 95.94 C156.60 95.69 158.30 96.36 159.60 97.06 C160.90 97.75 161.93 99.31 163.10 100.12 C164.27 100.92 165.42 101.43 166.60 101.88 C167.78 102.34 168.88 102.74 170.20 102.86 C171.52 102.97 173.20 102.92 174.50 102.59 C175.80 102.25 176.97 101.61 178.00 100.84 C179.03 100.07 179.67 98.57 180.70 97.95 C181.73 97.34 182.90 97.11 184.20 97.17 C185.50 97.23 187.03 98.14 188.50 98.28 C189.97 98.43 191.50 98.20 193.00 98.06 C194.50 97.92 196.25 97.35 197.50 97.46 C198.75 97.57 199.53 97.98 200.50 98.72 C201.47 99.46 202.25 101.19 203.30 101.88 C204.35 102.57 206.22 102.69 206.80 102.86" fill="none" stroke="#000" stroke-width="0.50" stroke-linejoin="round" stroke-linecap="round"/>
<path d="M148.30 102.70 C148.88 102.44 150.63 101.82 151.80 101.13 C152.97 100.43 154.00 99.21 155.30 98.53 C156.60 97.86 158.30 97.18 159.60 97.09 C160.90 97.01 161.93 97.56 163.10 98.02 C164.27 98.48 165.42 99.15 166.60 99.86 C167.78 100.58 168.88 101.73 170.20 102.32 C171.52 102.90 173.20 103.36 174.50 103.36 C175.80 103.37 176.97 102.89 178.00 102.36 C179.03 101.83 179.67 100.92 180.70 100.19 C181.73 99.45 182.90 98.55 184.20 97.96 C185.50 97.37 187.03 96.94 188.50 96.64 C189.97 96.34 191.50 95.99 193.00 96.15 C194.50 96.31 196.25 97.00 197.50 97.59 C198.75 98.18 199.53 98.89 200.50 99.69 C201.47 100.49 202.25 101.83 203.30 102.38 C204.35 102.94 205.68 102.96 206.80 103.03 C207.92 103.09 209.47 102.83 210.00 102.79" fill="none" stroke="#000" stroke-width="0.50" stroke-linejoin="round" stroke-linecap="round"/>
<path d="M145.60 103.91 C146.05 103.63 147.27 102.61 148.30 102.22 C149.33 101.83 150.63 101.90 151.80 101.57 C152.97 101.25 154.00 100.59 155.30 100.27 C156.60 99.95 158.30 99.69 159.60 99.65 C160.90 99.61 161.93 99.90 163.10 100.05 C164.27 100.21 165.42 100.24 166.60 100.56 C167.78 100.89 168.88 101.68 170.20 102.00 C171.52 102.31 173.20 102.62 174.50 102.47 C175.80 102.31 176.97 101.77 178.00 101.07 C179.03 100.38 179.67 98.97 180.70 98.27 C181.73 97.58 182.90 96.98 184.20 96.90 C185.50 96.82 187.03 97.36 188.50 97.79 C189.97 98.22 191.50 98.95 193.00 99.49 C194.50 100.03 196.25 100.68 197.50 101.05 C198.75 101.41 199.53 101.42 200.50 101.69 C201.47 101.96 202.25 102.52 203.30 102.69 C204.35 102.86 206.22 102.70 206.80 102.70" fill="none" stroke="#000" stroke-width="0.50" stroke-linejoin="round" stroke-linecap="round"/>
<path d="M148.30 99.90 C148.88 99.51 150.63 98.00 151.80 97.56 C152.97 97.13 154.00 97.01 155.30 97.30 C156.60 97.58 158.30 98.65 159.60 99.29 C160.90 99.92 161.93 100.74 163.10 101.12 C164.27 101.50 165.42 101.38 166.60 101.59 C167.78 101.80 168.88 102.22 170.20 102.36 C171.52 102.50 173.20 102.65 174.50 102.42 C175.80 102.19 176.97 101.65 178.00 100.98 C179.03 100.31 179.67 98.97 180.70 98.40 C181.73 97.83 182.90 97.55 184.20 97.56 C185.50 97.56 187.03 98.27 188.50 98.42 C189.97 98.57 191.50 98.51 193.00 98.44 C194.50 98.38 196.25 97.97 197.50 98.03 C198.75 98.10 199.53 98.24 200.50 98.85 C201.47 99.45 202.25 101.05 203.30 101.67 C204.35 102.29 205.68 102.43 206.80 102.59 C207.92 102.76 209.47 102.65 210.00 102.66" fill="none" stroke="#000" stroke-width="0.50" stroke-linejoin="round" stroke-linecap="round"/>
<path d="M148.30 100.38 C148.88 100.27 150.63 99.64 151.80 99.71 C152.97 99.78 154.00 101.06 155.30 100.80 C156.60 100.55 158.30 98.53 159.60 98.18 C160.90 97.83 161.93 98.06 163.10 98.69 C164.27 99.33 165.42 101.21 166.60 101.98 C167.78 102.75 168.88 103.20 170.20 103.31 C171.52 103.42 173.20 102.89 174.50 102.64 C175.80 102.39 176.97 102.19 178.00 101.83 C179.03 101.47 179.67 101.16 180.70 100.49 C181.73 99.82 182.90 98.59 184.20 97.82 C185.50 97.04 187.03 95.54 188.50 95.86 C189.97 96.17 191.50 99.06 193.00 99.72 C194.50 100.39 196.25 99.91 197.50 99.86 C198.75 99.82 199.53 99.03 200.50 99.44 C201.47 99.86 202.25 101.70 203.30 102.35 C204.35 102.99 205.68 103.25 206.80 103.30 C207.92 103.36 209.47 102.79 210.00 102.69" fill="none" stroke="#000" stroke-width="0.50" stroke-linejoin="round" stroke-linecap="round"/>
<path d="M148.30 100.92 C148.88 100.98 150.63 101.13 151.80 101.27 C152.97 101.40 154.00 102.12 155.30 101.72 C156.60 101.33 158.30 99.28 159.60 98.90 C160.90 98.52 161.93 98.84 163.10 99.42 C164.27 100.01 165.42 101.66 166.60 102.39 C167.78 103.12 168.88 103.68 170.20 103.79 C171.52 103.89 173.20 103.35 174.50 103.02 C175.80 102.69 176.97 102.22 178.00 101.81 C179.03 101.41 179.67 101.03 180.70 100.61 C181.73 100.19 182.90 99.94 184.20 99.31 C185.50 98.67 187.03 96.85 188.50 96.79 C189.97 96.74 191.50 98.04 193.00 98.96 C194.50 99.88 196.25 101.90 197.50 102.30 C198.75 102.71 199.53 101.42 200.50 101.41 C201.47 101.39 202.25 101.95 203.30 102.22 C204.35 102.49 205.68 102.91 206.80 103.03 C207.92 103.15 209.47 102.97 210.00 102.95" fill="none" stroke="#000" stroke-width="0.50" stroke-linejoin="round" stroke-linecap="round"/>
<path d="M206.00 102.40 C206.83 102.42 209.35 102.48 211.00 102.50 C212.65 102.52 215.08 102.50 215.90 102.50" fill="none" stroke="#000" stroke-width="0.60" stroke-linejoin="round" stroke-linecap="round"/>
<path d="M262.40 84.25 C262.65 84.95 263.02 87.34 263.90 88.47 C264.78 89.60 266.27 90.19 267.70 91.04 C269.13 91.89 270.90 92.79 272.50 93.57 C274.10 94.34 275.68 95.16 277.30 95.70 C278.92 96.24 280.27 96.42 282.20 96.79 C284.13 97.17 286.50 97.97 288.90 97.94 C291.30 97.91 294.18 97.07 296.60 96.61 C299.02 96.16 301.15 95.79 303.40 95.22 C305.65 94.64 308.02 93.84 310.10 93.14 C312.18 92.45 314.62 91.64 315.90 91.04 C317.18 90.45 317.48 89.80 317.80 89.56" fill="none" stroke="#000" stroke-width="0.60" stroke-linejoin="round" stroke-linecap="round"/>
<path d="M262.40 84.44 C262.65 85.16 263.02 87.56 263.90 88.78 C264.78 90.01 266.27 90.89 267.70 91.80 C269.13 92.71 270.90 93.51 272.50 94.24 C274.10 94.96 275.68 95.62 277.30 96.15 C278.92 96.68 280.27 97.08 282.20 97.40 C284.13 97.73 286.50 98.12 288.90 98.09 C291.30 98.06 294.18 97.62 296.60 97.23 C299.02 96.83 301.15 96.29 303.40 95.71 C305.65 95.14 308.02 94.51 310.10 93.77 C312.18 93.02 314.62 91.91 315.90 91.23 C317.18 90.55 317.48 89.95 317.80 89.70" fill="none" stroke="#000" stroke-width="0.60" stroke-linejoin="round" stroke-linecap="round"/>
<path d="M262.40 84.86 C262.65 85.60 263.02 88.09 263.90 89.31 C264.78 90.53 266.27 91.34 267.70 92.19 C269.13 93.04 270.90 93.69 272.50 94.42 C274.10 95.15 275.68 95.96 277.30 96.59 C278.92 97.21 280.27 97.82 282.20 98.17 C284.13 98.53 286.50 98.79 288.90 98.72 C291.30 98.65 294.18 98.17 296.60 97.76 C299.02 97.35 301.15 96.89 303.40 96.26 C305.65 95.63 308.02 94.76 310.10 93.97 C312.18 93.18 314.62 92.19 315.90 91.52 C317.18 90.85 317.48 90.21 317.80 89.95" fill="none" stroke="#000" stroke-width="0.60" stroke-linejoin="round" stroke-linecap="round"/>
<path d="M267.70 90.65 C268.35 91.15 270.15 92.53 271.60 93.69 C273.05 94.84 274.80 96.49 276.40 97.59 C278.00 98.69 279.43 99.70 281.20 100.27 C282.97 100.85 284.92 101.05 287.00 101.01 C289.08 100.97 291.45 100.49 293.70 100.04 C295.95 99.59 298.08 98.99 300.50 98.30 C302.92 97.62 305.80 96.70 308.20 95.92 C310.60 95.15 312.42 94.42 314.90 93.67 C317.38 92.91 321.73 91.78 323.10 91.41" fill="none" stroke="#000" stroke-width="0.60" stroke-linejoin="round" stroke-linecap="round"/>
<path d="M267.70 91.06 C268.35 91.62 270.15 93.20 271.60 94.43 C273.05 95.66 274.80 97.36 276.40 98.45 C278.00 99.53 279.43 100.43 281.20 100.92 C282.97 101.42 284.92 101.49 287.00 101.43 C289.08 101.37 291.45 100.95 293.70 100.55 C295.95 100.15 298.08 99.69 300.50 99.02 C302.92 98.35 305.80 97.37 308.20 96.53 C310.60 95.68 313.78 94.36 314.90 93.93" fill="none" stroke="#000" stroke-width="0.60" stroke-linejoin="round" stroke-linecap="round"/>
<path d="M266.30 87.65 C266.53 88.21 266.82 89.87 267.70 90.99 C268.58 92.12 270.15 93.14 271.60 94.40 C273.05 95.65 274.80 97.49 276.40 98.54 C278.00 99.58 279.43 100.16 281.20 100.67 C282.97 101.17 284.92 101.49 287.00 101.56 C289.08 101.63 291.45 101.52 293.70 101.08 C295.95 100.63 298.08 99.63 300.50 98.88 C302.92 98.14 305.80 97.43 308.20 96.58 C310.60 95.74 313.78 94.29 314.90 93.83" fill="none" stroke="#000" stroke-width="0.60" stroke-linejoin="round" stroke-linecap="round"/>
<path d="M266.30 87.87 C266.53 88.43 266.82 90.09 267.70 91.25 C268.58 92.42 270.15 93.54 271.60 94.85 C273.05 96.16 274.80 98.05 276.40 99.10 C278.00 100.15 279.43 100.61 281.20 101.15 C282.97 101.69 284.92 102.31 287.00 102.33 C289.08 102.34 291.45 101.73 293.70 101.26 C295.95 100.79 298.08 100.29 300.50 99.52 C302.92 98.76 305.80 97.56 308.20 96.67 C310.60 95.79 312.42 95.06 314.90 94.22 C317.38 93.38 321.73 92.08 323.10 91.65" fill="none" stroke="#000" stroke-width="0.60" stroke-linejoin="round" stroke-linecap="round"/>
<path d="M267.70 91.79 C268.35 92.40 270.15 94.24 271.60 95.48 C273.05 96.73 274.80 98.23 276.40 99.27 C278.00 100.31 279.43 101.14 281.20 101.73 C282.97 102.32 284.92 102.79 287.00 102.83 C289.08 102.87 291.45 102.49 293.70 101.97 C295.95 101.45 298.08 100.50 300.50 99.69 C302.92 98.88 305.80 97.97 308.20 97.11 C310.60 96.26 313.78 95.00 314.90 94.57" fill="none" stroke="#000" stroke-width="0.60" stroke-linejoin="round" stroke-linecap="round"/>
<path d="M310.10 88.30 C309.95 88.78 309.52 90.32 309.20 91.20 C308.88 92.08 308.37 93.20 308.20 93.60" fill="none" stroke="#000" stroke-width="0.50" stroke-linejoin="round" stroke-linecap="round"/>
<path d="M317.80 89.00 C317.58 89.45 317.05 90.90 316.50 91.70 C315.95 92.50 314.83 93.45 314.50 93.80" fill="none" stroke="#000" stroke-width="0.50" stroke-linejoin="round" stroke-linecap="round"/>
<path d="M315.40 90.70 C314.83 91.17 313.57 92.58 312.00 93.50 C310.43 94.42 307.00 95.75 306.00 96.20" fill="none" stroke="#000" stroke-width="0.50" stroke-linejoin="round" stroke-linecap="round"/>
<path d="M27.00 130.02 C27.42 130.63 28.62 132.52 29.50 133.65 C30.38 134.78 31.15 135.83 32.30 136.81 C33.45 137.79 34.85 138.74 36.40 139.53 C37.95 140.32 39.87 141.18 41.60 141.57 C43.33 141.96 45.07 141.84 46.80 141.86 C48.53 141.88 51.13 141.73 52.00 141.70" fill="none" stroke="#000" stroke-width="0.50" stroke-linejoin="round" stroke-linecap="round"/>
<path d="M27.00 129.99 C27.42 130.58 28.62 132.37 29.50 133.56 C30.38 134.76 31.15 136.04 32.30 137.13 C33.45 138.22 34.85 139.40 36.40 140.11 C37.95 140.82 39.87 141.03 41.60 141.39 C43.33 141.76 45.07 142.26 46.80 142.32 C48.53 142.38 51.13 141.84 52.00 141.75" fill="none" stroke="#000" stroke-width="0.50" stroke-linejoin="round" stroke-linecap="round"/>
<path d="M27.00 130.33 C27.42 130.93 28.62 132.75 29.50 133.92 C30.38 135.09 31.15 136.22 32.30 137.37 C33.45 138.53 34.85 140.05 36.40 140.83 C37.95 141.62 39.87 141.82 41.60 142.09 C43.33 142.36 45.07 142.37 46.80 142.45 C48.53 142.54 51.13 142.58 52.00 142.61" fill="none" stroke="#000" stroke-width="0.50" stroke-linejoin="round" stroke-linecap="round"/>
<path d="M27.00 130.49 C27.42 131.13 28.62 133.14 29.50 134.36 C30.38 135.59 31.15 136.76 32.30 137.86 C33.45 138.96 34.85 140.24 36.40 140.96 C37.95 141.68 39.87 141.94 41.60 142.21 C43.33 142.47 45.07 142.52 46.80 142.55 C48.53 142.57 51.13 142.40 52.00 142.37" fill="none" stroke="#000" stroke-width="0.50" stroke-linejoin="round" stroke-linecap="round"/>
<path d="M27.00 130.56 C27.42 131.23 28.62 133.35 29.50 134.61 C30.38 135.87 31.15 137.08 32.30 138.14 C33.45 139.20 34.85 140.23 36.40 140.97 C37.95 141.72 39.87 142.25 41.60 142.60 C43.33 142.95 45.07 143.06 46.80 143.08 C48.53 143.09 51.13 142.73 52.00 142.66" fill="none" stroke="#000" stroke-width="0.50" stroke-linejoin="round" stroke-linecap="round"/>
<path d="M32.30 133.72 C32.67 134.20 33.72 135.69 34.50 136.56 C35.28 137.43 36.08 138.23 37.00 138.95 C37.92 139.68 38.67 140.40 40.00 140.89 C41.33 141.37 44.17 141.68 45.00 141.84" fill="none" stroke="#000" stroke-width="0.50" stroke-linejoin="round" stroke-linecap="round"/>
<path d="M32.30 134.08 C32.67 134.58 33.72 136.16 34.50 137.06 C35.28 137.95 36.08 138.74 37.00 139.45 C37.92 140.17 38.67 140.85 40.00 141.34 C41.33 141.82 44.17 142.19 45.00 142.36" fill="none" stroke="#000" stroke-width="0.50" stroke-linejoin="round" stroke-linecap="round"/>
<path d="M32.30 134.31 C32.67 134.84 33.72 136.50 34.50 137.46 C35.28 138.41 36.08 139.26 37.00 140.04 C37.92 140.82 38.67 141.61 40.00 142.14 C41.33 142.67 44.17 143.06 45.00 143.24" fill="none" stroke="#000" stroke-width="0.50" stroke-linejoin="round" stroke-linecap="round"/>
<path d="M36.40 133.93 C36.58 134.35 37.07 135.60 37.50 136.44 C37.93 137.28 38.25 138.20 39.00 138.97 C39.75 139.74 41.50 140.71 42.00 141.06" fill="none" stroke="#000" stroke-width="0.50" stroke-linejoin="round" stroke-linecap="round"/>
<path d="M36.40 134.36 C36.58 134.78 37.07 136.05 37.50 136.90 C37.93 137.75 38.25 138.69 39.00 139.48 C39.75 140.26 41.50 141.28 42.00 141.64" fill="none" stroke="#000" stroke-width="0.50" stroke-linejoin="round" stroke-linecap="round"/>
<path d="M36.40 135.11 C36.58 135.53 37.07 136.79 37.50 137.61 C37.93 138.43 38.25 139.33 39.00 140.04 C39.75 140.74 41.50 141.52 42.00 141.82" fill="none" stroke="#000" stroke-width="0.50" stroke-linejoin="round" stroke-linecap="round"/>
<path d="M53.10 135.53 C53.62 134.41 55.17 130.28 56.20 128.78 C57.23 127.29 58.25 126.99 59.30 126.56 C60.35 126.13 61.45 126.33 62.50 126.22 C63.55 126.11 64.57 125.93 65.60 125.89 C66.63 125.86 67.67 125.68 68.70 126.03 C69.73 126.37 70.58 126.64 71.80 127.97 C73.02 129.30 74.60 132.09 76.00 134.01 C77.40 135.94 78.82 138.33 80.20 139.50 C81.58 140.68 82.67 140.62 84.30 141.04 C85.93 141.47 87.38 141.85 90.00 142.05 C92.62 142.25 98.33 142.22 100.00 142.26" fill="none" stroke="#000" stroke-width="0.50" stroke-linejoin="round" stroke-linecap="round"/>
<path d="M53.10 135.55 C53.62 134.89 55.17 132.67 56.20 131.59 C57.23 130.51 58.25 129.95 59.30 129.06 C60.35 128.17 61.45 126.89 62.50 126.25 C63.55 125.60 64.57 125.15 65.60 125.19 C66.63 125.23 67.67 125.59 68.70 126.49 C69.73 127.39 70.58 129.14 71.80 130.58 C73.02 132.02 74.60 133.80 76.00 135.14 C77.40 136.47 78.82 137.53 80.20 138.62 C81.58 139.70 82.67 140.98 84.30 141.64 C85.93 142.29 89.05 142.39 90.00 142.54" fill="none" stroke="#000" stroke-width="0.50" stroke-linejoin="round" stroke-linecap="round"/>
<path d="M53.10 137.82 C53.62 136.88 55.17 133.84 56.20 132.23 C57.23 130.63 58.25 129.23 59.30 128.19 C60.35 127.15 61.45 126.45 62.50 126.02 C63.55 125.59 64.57 125.46 65.60 125.60 C66.63 125.75 67.67 126.03 68.70 126.86 C69.73 127.69 70.58 129.00 71.80 130.60 C73.02 132.20 74.60 134.85 76.00 136.49 C77.40 138.12 78.82 139.51 80.20 140.39 C81.58 141.27 82.67 141.47 84.30 141.79 C85.93 142.10 87.38 142.10 90.00 142.29 C92.62 142.47 95.57 142.84 100.00 142.89 C104.43 142.95 113.83 142.64 116.60 142.59" fill="none" stroke="#000" stroke-width="0.50" stroke-linejoin="round" stroke-linecap="round"/>
<path d="M50.00 140.43 C50.52 139.69 52.07 137.49 53.10 135.99 C54.13 134.50 55.17 132.64 56.20 131.49 C57.23 130.33 58.25 129.78 59.30 129.09 C60.35 128.39 61.45 127.75 62.50 127.32 C63.55 126.89 64.57 126.56 65.60 126.51 C66.63 126.47 67.67 126.58 68.70 127.07 C69.73 127.56 70.58 128.29 71.80 129.45 C73.02 130.61 74.60 132.39 76.00 134.02 C77.40 135.65 78.82 137.93 80.20 139.25 C81.58 140.56 82.67 141.33 84.30 141.91 C85.93 142.50 87.38 142.69 90.00 142.78 C92.62 142.87 98.33 142.49 100.00 142.43" fill="none" stroke="#000" stroke-width="0.50" stroke-linejoin="round" stroke-linecap="round"/>
<path d="M50.00 141.91 C50.52 141.15 52.07 139.01 53.10 137.35 C54.13 135.69 55.17 133.17 56.20 131.95 C57.23 130.73 58.25 130.63 59.30 130.03 C60.35 129.43 61.45 128.87 62.50 128.35 C63.55 127.82 64.57 127.08 65.60 126.89 C66.63 126.71 67.67 126.55 68.70 127.23 C69.73 127.90 70.58 129.20 71.80 130.94 C73.02 132.67 74.60 136.05 76.00 137.63 C77.40 139.21 78.82 139.69 80.20 140.40 C81.58 141.11 82.67 141.41 84.30 141.87 C85.93 142.34 89.05 142.96 90.00 143.18" fill="none" stroke="#000" stroke-width="0.50" stroke-linejoin="round" stroke-linecap="round"/>
<path d="M50.00 141.04 C50.52 140.33 52.07 138.26 53.10 136.78 C54.13 135.29 55.17 133.32 56.20 132.14 C57.23 130.96 58.25 130.37 59.30 129.68 C60.35 129.00 61.45 128.42 62.50 128.03 C63.55 127.65 64.57 127.34 65.60 127.39 C66.63 127.44 67.67 127.70 68.70 128.32 C69.73 128.95 70.58 129.97 71.80 131.15 C73.02 132.33 74.60 133.97 76.00 135.40 C77.40 136.83 78.82 138.62 80.20 139.74 C81.58 140.86 82.67 141.57 84.30 142.13 C85.93 142.69 87.38 142.99 90.00 143.11 C92.62 143.22 98.33 142.87 100.00 142.82" fill="none" stroke="#000" stroke-width="0.50" stroke-linejoin="round" stroke-linecap="round"/>
<path d="M50.00 141.89 C50.52 141.50 52.07 140.71 53.10 139.55 C54.13 138.40 55.17 136.54 56.20 134.96 C57.23 133.38 58.25 131.35 59.30 130.08 C60.35 128.80 61.45 127.81 62.50 127.31 C63.55 126.82 64.57 126.83 65.60 127.12 C66.63 127.41 67.67 128.10 68.70 129.06 C69.73 130.03 70.58 131.63 71.80 132.91 C73.02 134.18 74.60 135.45 76.00 136.71 C77.40 137.97 78.82 139.45 80.20 140.47 C81.58 141.50 82.67 142.40 84.30 142.86 C85.93 143.31 89.05 143.13 90.00 143.18" fill="none" stroke="#000" stroke-width="0.50" stroke-linejoin="round" stroke-linecap="round"/>
<path d="M53.10 137.56 C53.62 136.71 55.17 133.79 56.20 132.46 C57.23 131.13 58.25 130.32 59.30 129.57 C60.35 128.82 61.45 128.31 62.50 127.98 C63.55 127.66 64.57 127.45 65.60 127.63 C66.63 127.81 67.67 128.23 68.70 129.06 C69.73 129.89 70.58 131.29 71.80 132.61 C73.02 133.94 74.60 135.73 76.00 137.00 C77.40 138.28 78.82 139.43 80.20 140.27 C81.58 141.12 82.67 141.61 84.30 142.07 C85.93 142.54 87.38 142.87 90.00 143.07 C92.62 143.27 98.33 143.23 100.00 143.26" fill="none" stroke="#000" stroke-width="0.50" stroke-linejoin="round" stroke-linecap="round"/>
<path d="M53.10 138.03 C53.62 137.28 55.17 134.70 56.20 133.57 C57.23 132.43 58.25 131.95 59.30 131.22 C60.35 130.49 61.45 129.73 62.50 129.18 C63.55 128.63 64.57 128.05 65.60 127.92 C66.63 127.79 67.67 127.82 68.70 128.40 C69.73 128.98 70.58 129.86 71.80 131.38 C73.02 132.91 74.60 135.77 76.00 137.56 C77.40 139.34 78.82 141.18 80.20 142.07 C81.58 142.96 82.67 142.76 84.30 142.90 C85.93 143.03 87.38 142.80 90.00 142.90 C92.62 142.99 95.57 143.42 100.00 143.47 C104.43 143.52 113.83 143.24 116.60 143.20" fill="none" stroke="#000" stroke-width="0.50" stroke-linejoin="round" stroke-linecap="round"/>
<path d="M46.80 142.85 C47.33 142.77 48.95 142.84 50.00 142.42 C51.05 142.00 52.07 141.32 53.10 140.31 C54.13 139.30 55.17 137.75 56.20 136.34 C57.23 134.93 58.25 133.18 59.30 131.87 C60.35 130.55 61.45 129.20 62.50 128.43 C63.55 127.66 64.57 127.22 65.60 127.23 C66.63 127.23 67.67 127.54 68.70 128.45 C69.73 129.36 70.58 130.90 71.80 132.68 C73.02 134.45 74.60 137.49 76.00 139.10 C77.40 140.71 78.82 141.70 80.20 142.34 C81.58 142.98 82.67 142.81 84.30 142.92 C85.93 143.04 89.05 143.02 90.00 143.04" fill="none" stroke="#000" stroke-width="0.50" stroke-linejoin="round" stroke-linecap="round"/>
<path d="M50.00 141.93 C50.52 141.44 52.07 139.98 53.10 138.97 C54.13 137.96 55.17 136.91 56.20 135.86 C57.23 134.81 58.25 133.80 59.30 132.68 C60.35 131.57 61.45 130.05 62.50 129.18 C63.55 128.32 64.57 127.60 65.60 127.49 C66.63 127.38 67.67 127.60 68.70 128.51 C69.73 129.43 70.58 131.14 71.80 132.96 C73.02 134.79 74.60 137.99 76.00 139.48 C77.40 140.96 78.82 141.36 80.20 141.88 C81.58 142.39 82.67 142.31 84.30 142.58 C85.93 142.85 89.05 143.35 90.00 143.51" fill="none" stroke="#000" stroke-width="0.50" stroke-linejoin="round" stroke-linecap="round"/>
<path d="M50.00 142.74 C50.52 142.41 52.07 142.01 53.10 140.77 C54.13 139.52 55.17 136.96 56.20 135.29 C57.23 133.61 58.25 131.75 59.30 130.71 C60.35 129.68 61.45 129.40 62.50 129.07 C63.55 128.74 64.57 128.65 65.60 128.73 C66.63 128.81 67.67 128.95 68.70 129.55 C69.73 130.14 70.58 130.78 71.80 132.29 C73.02 133.81 74.60 136.91 76.00 138.63 C77.40 140.36 78.82 141.96 80.20 142.66 C81.58 143.35 82.67 142.67 84.30 142.82 C85.93 142.96 87.38 143.46 90.00 143.53 C92.62 143.59 95.57 143.27 100.00 143.21 C104.43 143.16 113.83 143.19 116.60 143.19" fill="none" stroke="#000" stroke-width="0.50" stroke-linejoin="round" stroke-linecap="round"/>
<path d="M144.90 144.30 C145.87 144.38 149.40 144.60 150.70 144.80 C152.00 145.00 152.37 145.38 152.70 145.50" fill="none" stroke="#000" stroke-width="0.60" stroke-linejoin="round" stroke-linecap="round"/>
<path d="M150.50 144.80 C150.70 144.07 151.50 141.13 151.70 140.40" fill="none" stroke="#000" stroke-width="0.50" stroke-linejoin="round" stroke-linecap="round"/>
<path d="M172.00 136.38 C172.83 136.49 175.50 137.11 177.00 137.06 C178.50 137.01 179.83 136.95 181.00 136.09 C182.17 135.24 183.13 133.09 184.00 131.92 C184.87 130.75 185.63 129.44 186.20 129.06 C186.77 128.68 187.00 128.84 187.40 129.63 C187.80 130.41 188.13 132.24 188.60 133.78 C189.07 135.33 189.50 137.32 190.20 138.88 C190.90 140.45 191.67 142.30 192.80 143.16 C193.93 144.03 195.02 144.67 197.00 144.09 C198.98 143.51 202.53 140.40 204.70 139.69 C206.87 138.98 208.40 139.98 210.00 139.83 C211.60 139.67 212.30 139.49 214.30 138.75 C216.30 138.00 219.10 135.94 222.00 135.36 C224.90 134.78 228.95 135.35 231.70 135.28 C234.45 135.21 237.37 134.98 238.50 134.92" fill="none" stroke="#000" stroke-width="0.50" stroke-linejoin="round" stroke-linecap="round"/>
<path d="M157.50 142.77 C158.63 142.45 161.88 141.54 164.30 140.83 C166.72 140.13 169.88 138.65 172.00 138.55 C174.12 138.45 175.50 140.80 177.00 140.24 C178.50 139.69 179.83 136.73 181.00 135.21 C182.17 133.69 183.13 132.12 184.00 131.15 C184.87 130.18 185.63 129.56 186.20 129.40 C186.77 129.24 187.00 129.27 187.40 130.19 C187.80 131.11 188.13 133.19 188.60 134.93 C189.07 136.67 189.50 139.05 190.20 140.62 C190.90 142.20 191.67 143.92 192.80 144.36 C193.93 144.81 195.02 143.60 197.00 143.30 C198.98 143.00 202.53 143.12 204.70 142.58 C206.87 142.04 208.40 140.88 210.00 140.04 C211.60 139.19 212.30 137.88 214.30 137.52 C216.30 137.17 219.10 138.23 222.00 137.90 C224.90 137.57 228.95 135.90 231.70 135.53 C234.45 135.16 236.40 135.95 238.50 135.69 C240.60 135.44 243.33 134.29 244.30 134.01" fill="none" stroke="#000" stroke-width="0.50" stroke-linejoin="round" stroke-linecap="round"/>
<path d="M152.70 145.31 C153.50 144.80 155.57 143.46 157.50 142.28 C159.43 141.09 161.88 138.58 164.30 138.20 C166.72 137.83 169.88 139.92 172.00 140.03 C174.12 140.14 175.50 139.79 177.00 138.85 C178.50 137.91 179.83 135.75 181.00 134.40 C182.17 133.05 183.13 131.66 184.00 130.75 C184.87 129.84 185.63 129.11 186.20 128.94 C186.77 128.78 187.00 128.88 187.40 129.76 C187.80 130.63 188.13 132.55 188.60 134.20 C189.07 135.84 189.50 138.02 190.20 139.63 C190.90 141.23 191.67 143.05 192.80 143.84 C193.93 144.63 195.02 144.90 197.00 144.34 C198.98 143.79 202.53 141.48 204.70 140.50 C206.87 139.52 208.40 138.82 210.00 138.47 C211.60 138.12 212.30 138.62 214.30 138.43 C216.30 138.23 219.10 137.92 222.00 137.31 C224.90 136.70 228.95 135.05 231.70 134.75 C234.45 134.44 237.37 135.37 238.50 135.49" fill="none" stroke="#000" stroke-width="0.50" stroke-linejoin="round" stroke-linecap="round"/>
<path d="M152.70 145.01 C153.50 144.81 155.57 144.71 157.50 143.79 C159.43 142.88 161.88 140.22 164.30 139.51 C166.72 138.80 169.88 139.42 172.00 139.54 C174.12 139.66 175.50 140.93 177.00 140.22 C178.50 139.51 179.83 136.76 181.00 135.26 C182.17 133.76 183.13 132.21 184.00 131.22 C184.87 130.24 185.63 129.52 186.20 129.33 C186.77 129.14 187.00 129.19 187.40 130.09 C187.80 131.00 188.13 133.04 188.60 134.77 C189.07 136.49 189.50 138.83 190.20 140.45 C190.90 142.08 191.67 143.96 192.80 144.54 C193.93 145.12 195.02 144.47 197.00 143.94 C198.98 143.42 202.53 141.81 204.70 141.38 C206.87 140.95 208.40 141.80 210.00 141.36 C211.60 140.92 212.30 139.50 214.30 138.73 C216.30 137.96 219.10 137.26 222.00 136.74 C224.90 136.22 228.95 135.85 231.70 135.61 C234.45 135.37 236.40 135.49 238.50 135.31 C240.60 135.12 243.33 134.64 244.30 134.51" fill="none" stroke="#000" stroke-width="0.50" stroke-linejoin="round" stroke-linecap="round"/>
<path d="M157.50 144.09 C158.63 143.27 161.88 139.73 164.30 139.20 C166.72 138.66 169.88 140.76 172.00 140.89 C174.12 141.02 175.50 140.97 177.00 139.98 C178.50 138.99 179.83 136.36 181.00 134.96 C182.17 133.56 183.13 132.45 184.00 131.58 C184.87 130.71 185.63 129.93 186.20 129.73 C186.77 129.54 187.00 129.49 187.40 130.39 C187.80 131.30 188.13 133.43 188.60 135.17 C189.07 136.91 189.50 139.28 190.20 140.85 C190.90 142.43 191.67 144.15 192.80 144.63 C193.93 145.12 195.02 144.19 197.00 143.77 C198.98 143.36 202.53 142.52 204.70 142.15 C206.87 141.77 208.40 142.14 210.00 141.54 C211.60 140.94 212.30 139.27 214.30 138.57 C216.30 137.88 219.10 137.85 222.00 137.36 C224.90 136.86 228.95 135.90 231.70 135.59 C234.45 135.29 237.37 135.54 238.50 135.53" fill="none" stroke="#000" stroke-width="0.50" stroke-linejoin="round" stroke-linecap="round"/>
<path d="M172.00 141.19 C172.83 140.73 175.50 139.01 177.00 138.42 C178.50 137.83 179.83 138.32 181.00 137.64 C182.17 136.96 183.13 135.50 184.00 134.33 C184.87 133.15 185.63 131.21 186.20 130.58 C186.77 129.96 187.00 129.87 187.40 130.59 C187.80 131.32 188.13 133.38 188.60 134.95 C189.07 136.51 189.50 138.50 190.20 139.99 C190.90 141.47 191.67 142.99 192.80 143.86 C193.93 144.74 195.02 145.61 197.00 145.25 C198.98 144.88 202.53 142.32 204.70 141.68 C206.87 141.05 208.40 141.56 210.00 141.44 C211.60 141.32 212.30 141.70 214.30 140.96 C216.30 140.22 219.10 137.80 222.00 137.02 C224.90 136.24 228.95 136.50 231.70 136.30 C234.45 136.09 236.40 136.06 238.50 135.79 C240.60 135.52 243.33 134.85 244.30 134.66" fill="none" stroke="#000" stroke-width="0.50" stroke-linejoin="round" stroke-linecap="round"/>
<path d="M172.00 141.00 C172.83 140.64 175.50 139.72 177.00 138.83 C178.50 137.95 179.83 136.72 181.00 135.67 C182.17 134.62 183.13 133.46 184.00 132.54 C184.87 131.62 185.63 130.47 186.20 130.14 C186.77 129.82 187.00 129.72 187.40 130.59 C187.80 131.46 188.13 133.61 188.60 135.35 C189.07 137.09 189.50 139.39 190.20 141.02 C190.90 142.65 191.67 144.38 192.80 145.11 C193.93 145.84 195.02 145.86 197.00 145.41 C198.98 144.97 202.53 143.34 204.70 142.44 C206.87 141.55 208.40 140.60 210.00 140.02 C211.60 139.45 212.30 139.23 214.30 139.00 C216.30 138.77 219.10 139.01 222.00 138.62 C224.90 138.24 228.95 137.21 231.70 136.70 C234.45 136.18 236.40 135.94 238.50 135.54 C240.60 135.14 243.33 134.49 244.30 134.28" fill="none" stroke="#000" stroke-width="0.50" stroke-linejoin="round" stroke-linecap="round"/>
<path d="M157.50 142.68 C158.63 142.46 161.88 141.54 164.30 141.40 C166.72 141.26 169.88 141.99 172.00 141.84 C174.12 141.69 175.50 141.42 177.00 140.50 C178.50 139.59 179.83 137.74 181.00 136.35 C182.17 134.97 183.13 133.32 184.00 132.19 C184.87 131.06 185.63 129.92 186.20 129.57 C186.77 129.21 187.00 129.26 187.40 130.08 C187.80 130.89 188.13 132.87 188.60 134.48 C189.07 136.09 189.50 138.20 190.20 139.71 C190.90 141.22 191.67 142.82 192.80 143.56 C193.93 144.31 195.02 144.22 197.00 144.19 C198.98 144.16 202.53 143.80 204.70 143.40 C206.87 142.99 208.40 142.37 210.00 141.74 C211.60 141.12 212.30 140.52 214.30 139.65 C216.30 138.77 220.72 137.04 222.00 136.51" fill="none" stroke="#000" stroke-width="0.50" stroke-linejoin="round" stroke-linecap="round"/>
<path d="M164.30 141.17 C165.58 141.39 169.88 142.80 172.00 142.48 C174.12 142.15 175.50 140.26 177.00 139.21 C178.50 138.15 179.83 137.06 181.00 136.13 C182.17 135.19 183.13 134.45 184.00 133.57 C184.87 132.70 185.63 131.29 186.20 130.87 C186.77 130.46 187.00 130.23 187.40 131.06 C187.80 131.90 188.13 134.17 188.60 135.88 C189.07 137.59 189.50 139.88 190.20 141.33 C190.90 142.77 191.67 144.11 192.80 144.55 C193.93 144.99 195.02 144.06 197.00 143.96 C198.98 143.86 202.53 144.30 204.70 143.93 C206.87 143.57 208.40 142.58 210.00 141.74 C211.60 140.91 212.30 139.43 214.30 138.94 C216.30 138.45 219.10 139.32 222.00 138.81 C224.90 138.31 228.95 136.35 231.70 135.89 C234.45 135.43 236.40 136.27 238.50 136.07 C240.60 135.87 243.33 134.94 244.30 134.72" fill="none" stroke="#000" stroke-width="0.50" stroke-linejoin="round" stroke-linecap="round"/>
<path d="M152.70 145.58 C153.50 145.54 155.57 145.92 157.50 145.29 C159.43 144.66 161.88 142.30 164.30 141.81 C166.72 141.32 169.88 142.14 172.00 142.34 C174.12 142.55 175.50 143.78 177.00 143.02 C178.50 142.27 179.83 139.50 181.00 137.83 C182.17 136.16 183.13 134.27 184.00 133.00 C184.87 131.73 185.63 130.59 186.20 130.20 C186.77 129.81 187.00 129.76 187.40 130.64 C187.80 131.52 188.13 133.69 188.60 135.48 C189.07 137.27 189.50 139.66 190.20 141.36 C190.90 143.06 191.67 144.97 192.80 145.67 C193.93 146.37 195.02 146.04 197.00 145.54 C198.98 145.04 202.53 143.06 204.70 142.66 C206.87 142.25 208.40 143.28 210.00 143.10 C211.60 142.92 212.30 142.47 214.30 141.57 C216.30 140.67 220.72 138.34 222.00 137.69" fill="none" stroke="#000" stroke-width="0.50" stroke-linejoin="round" stroke-linecap="round"/>
<path d="M164.30 142.49 C165.58 142.53 169.88 143.05 172.00 142.73 C174.12 142.40 175.50 141.63 177.00 140.56 C178.50 139.48 179.83 137.61 181.00 136.25 C182.17 134.90 183.13 133.48 184.00 132.42 C184.87 131.36 185.63 130.25 186.20 129.91 C186.77 129.58 187.00 129.55 187.40 130.40 C187.80 131.26 188.13 133.36 188.60 135.07 C189.07 136.78 189.50 139.04 190.20 140.68 C190.90 142.32 191.67 144.07 192.80 144.88 C193.93 145.70 195.02 145.86 197.00 145.57 C198.98 145.28 202.53 144.00 204.70 143.14 C206.87 142.28 208.40 141.07 210.00 140.39 C211.60 139.71 212.30 139.34 214.30 139.06 C216.30 138.78 219.10 139.10 222.00 138.72 C224.90 138.34 228.95 137.31 231.70 136.79 C234.45 136.26 237.37 135.78 238.50 135.58" fill="none" stroke="#000" stroke-width="0.50" stroke-linejoin="round" stroke-linecap="round"/>
<path d="M164.30 142.75 C165.58 143.08 169.88 144.74 172.00 144.74 C174.12 144.75 175.50 143.93 177.00 142.78 C178.50 141.62 179.83 139.36 181.00 137.83 C182.17 136.29 183.13 134.79 184.00 133.59 C184.87 132.40 185.63 131.09 186.20 130.65 C186.77 130.21 187.00 130.07 187.40 130.94 C187.80 131.81 188.13 134.06 188.60 135.87 C189.07 137.67 189.50 140.08 190.20 141.78 C190.90 143.47 191.67 145.30 192.80 146.05 C193.93 146.80 195.02 146.76 197.00 146.28 C198.98 145.79 202.53 143.81 204.70 143.14 C206.87 142.47 208.40 142.39 210.00 142.26 C211.60 142.12 212.30 142.81 214.30 142.35 C216.30 141.89 220.72 139.97 222.00 139.49" fill="none" stroke="#000" stroke-width="0.50" stroke-linejoin="round" stroke-linecap="round"/>
<path d="M152.70 145.85 C153.50 145.57 155.57 144.82 157.50 144.14 C159.43 143.45 161.88 141.92 164.30 141.76 C166.72 141.60 169.88 142.86 172.00 143.17 C174.12 143.48 175.50 144.19 177.00 143.62 C178.50 143.06 179.83 141.27 181.00 139.79 C182.17 138.31 183.13 136.23 184.00 134.74 C184.87 133.25 185.63 131.49 186.20 130.85 C186.77 130.21 187.00 130.10 187.40 130.87 C187.80 131.64 188.13 133.83 188.60 135.48 C189.07 137.14 189.50 139.32 190.20 140.81 C190.90 142.31 191.67 143.78 192.80 144.44 C193.93 145.11 195.02 144.77 197.00 144.80 C198.98 144.82 202.53 144.79 204.70 144.60 C206.87 144.42 208.40 144.15 210.00 143.68 C211.60 143.21 212.30 142.73 214.30 141.80 C216.30 140.86 219.10 138.87 222.00 138.06 C224.90 137.25 230.08 137.11 231.70 136.92" fill="none" stroke="#000" stroke-width="0.50" stroke-linejoin="round" stroke-linecap="round"/>
<path d="M152.70 146.21 C153.50 145.91 155.57 144.51 157.50 144.40 C159.43 144.30 161.88 146.01 164.30 145.56 C166.72 145.12 169.88 141.97 172.00 141.75 C174.12 141.52 175.50 144.49 177.00 144.20 C178.50 143.91 179.83 141.71 181.00 140.02 C182.17 138.33 183.13 135.61 184.00 134.06 C184.87 132.51 185.63 131.22 186.20 130.72 C186.77 130.22 187.00 130.13 187.40 131.04 C187.80 131.94 188.13 134.25 188.60 136.12 C189.07 138.00 189.50 140.57 190.20 142.27 C190.90 143.96 191.67 145.78 192.80 146.28 C193.93 146.78 195.02 145.34 197.00 145.24 C198.98 145.14 202.53 146.17 204.70 145.68 C206.87 145.18 208.40 142.99 210.00 142.29 C211.60 141.58 212.30 141.93 214.30 141.44 C216.30 140.95 219.10 139.91 222.00 139.36 C224.90 138.81 228.95 138.69 231.70 138.16 C234.45 137.62 236.40 136.65 238.50 136.14 C240.60 135.63 243.33 135.28 244.30 135.11" fill="none" stroke="#000" stroke-width="0.50" stroke-linejoin="round" stroke-linecap="round"/>
<path d="M152.70 145.88 C153.50 145.89 155.57 145.92 157.50 145.92 C159.43 145.91 161.88 146.36 164.30 145.85 C166.72 145.34 169.88 143.57 172.00 142.85 C174.12 142.14 175.50 142.19 177.00 141.53 C178.50 140.87 179.83 139.94 181.00 138.90 C182.17 137.86 183.13 136.48 184.00 135.28 C184.87 134.07 185.63 132.29 186.20 131.67 C186.77 131.06 187.00 130.76 187.40 131.60 C187.80 132.43 188.13 134.85 188.60 136.68 C189.07 138.52 189.50 140.96 190.20 142.59 C190.90 144.23 191.67 145.86 192.80 146.48 C193.93 147.09 195.02 146.75 197.00 146.29 C198.98 145.82 202.53 144.28 204.70 143.67 C206.87 143.07 208.40 142.85 210.00 142.64 C211.60 142.43 212.30 142.73 214.30 142.42 C216.30 142.11 220.72 141.04 222.00 140.76" fill="none" stroke="#000" stroke-width="0.50" stroke-linejoin="round" stroke-linecap="round"/>
<path d="M157.50 145.58 C158.63 145.27 161.88 143.79 164.30 143.72 C166.72 143.65 169.88 145.47 172.00 145.15 C174.12 144.82 175.50 142.70 177.00 141.75 C178.50 140.80 179.83 140.39 181.00 139.47 C182.17 138.54 183.13 137.43 184.00 136.19 C184.87 134.95 185.63 132.77 186.20 132.02 C186.77 131.26 187.00 130.92 187.40 131.67 C187.80 132.41 188.13 134.79 188.60 136.48 C189.07 138.18 189.50 140.38 190.20 141.82 C190.90 143.26 191.67 144.44 192.80 145.13 C193.93 145.81 195.02 145.90 197.00 145.92 C198.98 145.95 202.53 145.87 204.70 145.27 C206.87 144.67 208.40 142.75 210.00 142.31 C211.60 141.87 212.30 143.08 214.30 142.63 C216.30 142.18 219.10 140.35 222.00 139.62 C224.90 138.89 228.95 138.74 231.70 138.23 C234.45 137.71 237.37 136.81 238.50 136.52" fill="none" stroke="#000" stroke-width="0.50" stroke-linejoin="round" stroke-linecap="round"/>
<path d="M157.50 146.34 C158.63 145.92 161.88 144.28 164.30 143.79 C166.72 143.29 169.88 143.17 172.00 143.36 C174.12 143.55 175.50 145.27 177.00 144.92 C178.50 144.56 179.83 142.79 181.00 141.24 C182.17 139.69 183.13 137.28 184.00 135.61 C184.87 133.95 185.63 131.98 186.20 131.23 C186.77 130.48 187.00 130.34 187.40 131.11 C187.80 131.87 188.13 134.11 188.60 135.80 C189.07 137.50 189.50 139.72 190.20 141.29 C190.90 142.87 191.67 144.42 192.80 145.26 C193.93 146.10 195.02 146.24 197.00 146.32 C198.98 146.40 202.53 146.33 204.70 145.73 C206.87 145.14 208.40 143.55 210.00 142.77 C211.60 142.00 212.30 141.43 214.30 141.08 C216.30 140.74 219.10 141.31 222.00 140.70 C224.90 140.08 228.95 138.11 231.70 137.40 C234.45 136.68 236.40 136.79 238.50 136.41 C240.60 136.03 243.33 135.34 244.30 135.13" fill="none" stroke="#000" stroke-width="0.50" stroke-linejoin="round" stroke-linecap="round"/>
<path d="M172.00 142.86 C172.83 143.30 175.50 145.88 177.00 145.50 C178.50 145.12 179.83 142.38 181.00 140.56 C182.17 138.74 183.13 136.17 184.00 134.60 C184.87 133.04 185.63 131.72 186.20 131.19 C186.77 130.65 187.00 130.49 187.40 131.39 C187.80 132.30 188.13 134.72 188.60 136.62 C189.07 138.53 189.50 141.16 190.20 142.82 C190.90 144.48 191.67 146.13 192.80 146.59 C193.93 147.05 195.02 145.63 197.00 145.59 C198.98 145.56 202.53 146.84 204.70 146.36 C206.87 145.89 208.40 143.34 210.00 142.75 C211.60 142.15 212.30 143.32 214.30 142.78 C216.30 142.24 219.10 140.23 222.00 139.51 C224.90 138.79 228.95 138.94 231.70 138.45 C234.45 137.95 237.37 136.85 238.50 136.53" fill="none" stroke="#000" stroke-width="0.50" stroke-linejoin="round" stroke-linecap="round"/>
<path d="M172.00 144.42 C172.83 144.25 175.50 143.75 177.00 143.36 C178.50 142.96 179.83 143.20 181.00 142.06 C182.17 140.92 183.13 138.26 184.00 136.51 C184.87 134.75 185.63 132.39 186.20 131.51 C186.77 130.63 187.00 130.49 187.40 131.24 C187.80 131.99 188.13 134.25 188.60 136.00 C189.07 137.76 189.50 140.04 190.20 141.77 C190.90 143.50 191.67 145.50 192.80 146.40 C193.93 147.31 195.02 147.48 197.00 147.21 C198.98 146.93 202.53 145.05 204.70 144.75 C206.87 144.46 208.40 145.83 210.00 145.42 C211.60 145.02 212.30 143.02 214.30 142.31 C216.30 141.60 219.10 141.97 222.00 141.16 C224.90 140.34 228.95 138.04 231.70 137.41 C234.45 136.78 237.37 137.38 238.50 137.38" fill="none" stroke="#000" stroke-width="0.50" stroke-linejoin="round" stroke-linecap="round"/>
<path d="M152.70 146.44 C153.50 146.24 155.57 145.24 157.50 145.25 C159.43 145.26 161.88 146.67 164.30 146.50 C166.72 146.34 169.88 144.76 172.00 144.26 C174.12 143.76 175.50 143.86 177.00 143.49 C178.50 143.12 179.83 143.15 181.00 142.05 C182.17 140.96 183.13 138.63 184.00 136.93 C184.87 135.23 185.63 132.78 186.20 131.87 C186.77 130.96 187.00 130.74 187.40 131.46 C187.80 132.18 188.13 134.48 188.60 136.19 C189.07 137.90 189.50 140.10 190.20 141.71 C190.90 143.33 191.67 144.95 192.80 145.88 C193.93 146.82 195.02 147.52 197.00 147.31 C198.98 147.11 202.53 145.15 204.70 144.65 C206.87 144.14 208.40 144.35 210.00 144.29 C211.60 144.22 212.30 145.06 214.30 144.26 C216.30 143.45 220.72 140.26 222.00 139.47" fill="none" stroke="#000" stroke-width="0.50" stroke-linejoin="round" stroke-linecap="round"/>
<path d="M189.50 140.50 C189.65 139.58 190.10 136.55 190.40 135.00 C190.70 133.45 191.15 131.83 191.30 131.20" fill="none" stroke="#333" stroke-width="0.50" stroke-linejoin="round" stroke-linecap="round"/>
<path d="M190.50 141.50 C190.67 140.58 191.15 137.45 191.50 136.00 C191.85 134.55 192.42 133.33 192.60 132.80" fill="none" stroke="#333" stroke-width="0.50" stroke-linejoin="round" stroke-linecap="round"/>
<path d="M191.80 143.00 C191.92 142.17 192.27 139.42 192.50 138.00 C192.73 136.58 193.08 135.08 193.20 134.50" fill="none" stroke="#333" stroke-width="0.50" stroke-linejoin="round" stroke-linecap="round"/>
<path d="M188.80 138.00 C188.90 137.33 189.20 134.95 189.40 134.00 C189.60 133.05 189.90 132.58 190.00 132.30" fill="none" stroke="#333" stroke-width="0.50" stroke-linejoin="round" stroke-linecap="round"/>
<path d="M222.00 137.50 C222.05 137.00 222.22 135.33 222.30 134.50 C222.38 133.67 222.47 132.83 222.50 132.50" fill="none" stroke="#000" stroke-width="0.50" stroke-linejoin="round" stroke-linecap="round"/>
<path d="M226.50 137.20 C226.67 136.75 227.33 134.95 227.50 134.50" fill="none" stroke="#000" stroke-width="0.50" stroke-linejoin="round" stroke-linecap="round"/>
<path d="M231.00 136.50 C231.33 136.08 232.67 134.42 233.00 134.00" fill="none" stroke="#000" stroke-width="0.50" stroke-linejoin="round" stroke-linecap="round"/>
<path d="M236.00 136.20 C236.33 135.87 237.67 134.53 238.00 134.20" fill="none" stroke="#000" stroke-width="0.50" stroke-linejoin="round" stroke-linecap="round"/>
<path d="M240.50 136.00 C240.83 135.67 242.17 134.33 242.50 134.00" fill="none" stroke="#000" stroke-width="0.50" stroke-linejoin="round" stroke-linecap="round"/>
<path d="M244.30 134.80 C244.45 134.47 245.05 133.13 245.20 132.80" fill="none" stroke="#000" stroke-width="0.50" stroke-linejoin="round" stroke-linecap="round"/>
<path d="M218.00 138.50 C218.33 138.12 219.67 136.58 220.00 136.20" fill="none" stroke="#000" stroke-width="0.50" stroke-linejoin="round" stroke-linecap="round"/>
<path d="M224.00 134.60 C225.28 134.52 229.70 134.10 231.70 134.10 C233.70 134.10 235.28 134.52 236.00 134.60" fill="none" stroke="#000" stroke-width="0.50" stroke-linejoin="round" stroke-linecap="round"/>
<path d="M212.00 140.30 C212.33 139.88 213.67 138.22 214.00 137.80" fill="none" stroke="#000" stroke-width="0.50" stroke-linejoin="round" stroke-linecap="round"/>
<path d="M261.70 144.20 C262.25 144.50 262.78 145.67 265.00 146.00 C267.22 146.33 272.17 146.23 275.00 146.20 C277.83 146.17 280.50 145.78 282.00 145.80 C283.50 145.82 283.67 146.22 284.00 146.30" fill="none" stroke="#000" stroke-width="0.85" stroke-linejoin="round" stroke-linecap="round"/>
<path d="M282.50 145.87 C282.92 145.42 284.07 144.12 285.00 143.18 C285.93 142.25 287.13 140.81 288.10 140.24 C289.07 139.68 289.90 139.78 290.80 139.80 C291.70 139.83 292.48 140.52 293.50 140.40 C294.52 140.27 295.90 139.32 296.90 139.05 C297.90 138.78 298.03 138.75 299.50 138.77 C300.97 138.80 303.95 139.09 305.70 139.21 C307.45 139.34 308.70 139.51 310.00 139.50 C311.30 139.48 312.47 139.10 313.50 139.13 C314.53 139.17 315.32 139.17 316.20 139.70 C317.08 140.22 317.93 141.46 318.80 142.29 C319.67 143.12 319.93 144.10 321.40 144.68 C322.87 145.26 325.33 145.63 327.60 145.78 C329.87 145.93 332.10 145.54 335.00 145.58 C337.90 145.62 341.00 145.86 345.00 146.04 C349.00 146.22 356.67 146.57 359.00 146.67" fill="none" stroke="#000" stroke-width="0.50" stroke-linejoin="round" stroke-linecap="round"/>
<path d="M285.00 143.68 C285.52 143.05 287.13 140.61 288.10 139.90 C289.07 139.19 289.90 139.26 290.80 139.42 C291.70 139.58 292.48 140.72 293.50 140.87 C294.52 141.02 295.90 140.58 296.90 140.31 C297.90 140.05 298.03 139.43 299.50 139.29 C300.97 139.15 303.95 139.42 305.70 139.50 C307.45 139.58 308.70 139.84 310.00 139.76 C311.30 139.69 312.47 139.11 313.50 139.07 C314.53 139.04 315.32 138.92 316.20 139.56 C317.08 140.20 317.93 141.92 318.80 142.91 C319.67 143.91 319.93 145.05 321.40 145.55 C322.87 146.04 325.33 145.86 327.60 145.89 C329.87 145.92 332.10 145.70 335.00 145.72 C337.90 145.74 343.33 145.96 345.00 146.01" fill="none" stroke="#000" stroke-width="0.50" stroke-linejoin="round" stroke-linecap="round"/>
<path d="M282.50 146.18 C282.92 145.81 284.07 144.87 285.00 143.98 C285.93 143.08 287.13 141.43 288.10 140.83 C289.07 140.23 289.90 140.24 290.80 140.39 C291.70 140.55 292.48 141.58 293.50 141.78 C294.52 141.97 295.90 141.83 296.90 141.55 C297.90 141.27 298.03 140.42 299.50 140.09 C300.97 139.77 303.95 139.64 305.70 139.61 C307.45 139.57 308.70 139.82 310.00 139.88 C311.30 139.95 312.47 139.81 313.50 140.00 C314.53 140.19 315.32 140.29 316.20 141.00 C317.08 141.72 317.93 143.56 318.80 144.31 C319.67 145.06 319.93 145.18 321.40 145.51 C322.87 145.83 325.33 146.15 327.60 146.26 C329.87 146.37 332.10 146.13 335.00 146.16 C337.90 146.19 343.33 146.40 345.00 146.44" fill="none" stroke="#000" stroke-width="0.50" stroke-linejoin="round" stroke-linecap="round"/>
<path d="M282.50 146.22 C282.92 145.95 284.07 145.36 285.00 144.62 C285.93 143.89 287.13 142.54 288.10 141.80 C289.07 141.06 289.90 140.42 290.80 140.16 C291.70 139.89 292.48 140.25 293.50 140.21 C294.52 140.17 295.90 139.97 296.90 139.93 C297.90 139.88 298.03 139.92 299.50 139.94 C300.97 139.97 303.95 140.15 305.70 140.09 C307.45 140.02 308.70 139.73 310.00 139.57 C311.30 139.40 312.47 138.97 313.50 139.10 C314.53 139.23 315.32 139.41 316.20 140.35 C317.08 141.28 317.93 143.71 318.80 144.69 C319.67 145.67 319.93 145.99 321.40 146.21 C322.87 146.44 325.33 146.10 327.60 146.05 C329.87 146.00 332.10 145.86 335.00 145.92 C337.90 145.98 343.33 146.33 345.00 146.41" fill="none" stroke="#000" stroke-width="0.50" stroke-linejoin="round" stroke-linecap="round"/>
<path d="M285.00 144.16 C285.52 143.74 287.13 142.13 288.10 141.61 C289.07 141.09 289.90 140.95 290.80 141.03 C291.70 141.12 292.48 141.94 293.50 142.10 C294.52 142.27 295.90 142.25 296.90 142.02 C297.90 141.78 298.03 140.97 299.50 140.68 C300.97 140.39 303.95 140.40 305.70 140.28 C307.45 140.15 308.70 140.06 310.00 139.94 C311.30 139.82 312.47 139.44 313.50 139.53 C314.53 139.62 315.32 139.70 316.20 140.47 C317.08 141.25 317.93 143.29 318.80 144.18 C319.67 145.07 319.93 145.44 321.40 145.83 C322.87 146.21 325.33 146.38 327.60 146.49 C329.87 146.61 332.10 146.51 335.00 146.51 C337.90 146.52 341.00 146.44 345.00 146.52 C349.00 146.60 356.67 146.92 359.00 147.00" fill="none" stroke="#000" stroke-width="0.50" stroke-linejoin="round" stroke-linecap="round"/>
<path d="M282.50 146.14 C282.92 145.80 284.07 144.92 285.00 144.11 C285.93 143.29 287.13 141.85 288.10 141.24 C289.07 140.62 289.90 140.42 290.80 140.44 C291.70 140.46 292.48 141.20 293.50 141.34 C294.52 141.48 295.90 141.44 296.90 141.29 C297.90 141.14 298.03 140.57 299.50 140.42 C300.97 140.28 303.95 140.43 305.70 140.40 C307.45 140.37 308.70 140.31 310.00 140.24 C311.30 140.16 312.47 139.85 313.50 139.96 C314.53 140.07 315.32 140.14 316.20 140.90 C317.08 141.66 317.93 143.71 318.80 144.52 C319.67 145.34 319.93 145.52 321.40 145.78 C322.87 146.04 325.33 146.02 327.60 146.09 C329.87 146.16 332.10 146.09 335.00 146.20 C337.90 146.32 341.00 146.64 345.00 146.77 C349.00 146.89 356.67 146.93 359.00 146.96" fill="none" stroke="#000" stroke-width="0.50" stroke-linejoin="round" stroke-linecap="round"/>
<path d="M285.00 145.26 C285.52 144.78 287.13 143.00 288.10 142.37 C289.07 141.74 289.90 141.35 290.80 141.48 C291.70 141.61 292.48 142.86 293.50 143.15 C294.52 143.45 295.90 143.65 296.90 143.26 C297.90 142.87 298.03 141.30 299.50 140.82 C300.97 140.34 303.95 140.42 305.70 140.41 C307.45 140.39 308.70 140.73 310.00 140.72 C311.30 140.71 312.47 140.25 313.50 140.32 C314.53 140.39 315.32 140.25 316.20 141.13 C317.08 142.01 317.93 144.64 318.80 145.61 C319.67 146.57 319.93 146.75 321.40 146.93 C322.87 147.11 325.33 146.72 327.60 146.69 C329.87 146.66 332.10 146.76 335.00 146.75 C337.90 146.75 343.33 146.67 345.00 146.66" fill="none" stroke="#000" stroke-width="0.50" stroke-linejoin="round" stroke-linecap="round"/>
<path d="M285.00 145.13 C285.52 144.72 287.13 143.29 288.10 142.66 C289.07 142.03 289.90 141.51 290.80 141.34 C291.70 141.18 292.48 141.72 293.50 141.66 C294.52 141.60 295.90 141.24 296.90 140.99 C297.90 140.74 298.03 140.27 299.50 140.18 C300.97 140.08 303.95 140.37 305.70 140.43 C307.45 140.49 308.70 140.50 310.00 140.52 C311.30 140.54 312.47 140.35 313.50 140.54 C314.53 140.74 315.32 140.83 316.20 141.70 C317.08 142.57 317.93 144.98 318.80 145.74 C319.67 146.51 319.93 146.21 321.40 146.30 C322.87 146.40 325.33 146.30 327.60 146.32 C329.87 146.34 332.10 146.31 335.00 146.41 C337.90 146.51 343.33 146.83 345.00 146.92" fill="none" stroke="#000" stroke-width="0.50" stroke-linejoin="round" stroke-linecap="round"/>
<path d="M282.50 146.51 C282.92 146.33 284.07 146.03 285.00 145.43 C285.93 144.82 287.13 143.51 288.10 142.87 C289.07 142.23 289.90 141.65 290.80 141.59 C291.70 141.54 292.48 142.31 293.50 142.55 C294.52 142.79 295.90 143.23 296.90 143.03 C297.90 142.84 298.03 141.80 299.50 141.38 C300.97 140.97 303.95 140.74 305.70 140.54 C307.45 140.34 308.70 140.22 310.00 140.20 C311.30 140.18 312.47 140.08 313.50 140.41 C314.53 140.73 315.32 141.02 316.20 142.14 C317.08 143.27 317.93 146.34 318.80 147.17 C319.67 147.99 319.93 147.18 321.40 147.09 C322.87 146.99 325.33 146.64 327.60 146.60 C329.87 146.56 332.10 146.85 335.00 146.87 C337.90 146.89 343.33 146.75 345.00 146.73" fill="none" stroke="#000" stroke-width="0.50" stroke-linejoin="round" stroke-linecap="round"/>
<path d="M285.00 145.30 C285.52 145.08 287.13 144.29 288.10 144.00 C289.07 143.72 289.90 143.50 290.80 143.60 C291.70 143.70 292.48 144.57 293.50 144.61 C294.52 144.64 295.90 144.36 296.90 143.80 C297.90 143.23 298.03 141.76 299.50 141.21 C300.97 140.66 303.95 140.61 305.70 140.50 C307.45 140.40 308.70 140.52 310.00 140.60 C311.30 140.68 312.47 140.65 313.50 141.00 C314.53 141.34 315.32 141.54 316.20 142.65 C317.08 143.77 317.93 146.91 318.80 147.69 C319.67 148.47 319.93 147.47 321.40 147.33 C322.87 147.20 325.33 146.95 327.60 146.86 C329.87 146.77 332.10 146.72 335.00 146.78 C337.90 146.84 341.00 147.13 345.00 147.21 C349.00 147.28 356.67 147.22 359.00 147.23" fill="none" stroke="#000" stroke-width="0.50" stroke-linejoin="round" stroke-linecap="round"/>
<path d="M285.00 145.89 C285.52 145.67 287.13 145.00 288.10 144.59 C289.07 144.19 289.90 143.59 290.80 143.44 C291.70 143.28 292.48 143.81 293.50 143.67 C294.52 143.52 295.90 143.04 296.90 142.57 C297.90 142.11 298.03 141.13 299.50 140.86 C300.97 140.60 303.95 140.95 305.70 140.99 C307.45 141.02 308.70 141.06 310.00 141.07 C311.30 141.08 312.47 140.88 313.50 141.06 C314.53 141.23 315.32 141.24 316.20 142.12 C317.08 142.99 317.93 145.54 318.80 146.31 C319.67 147.08 319.93 146.57 321.40 146.72 C322.87 146.87 325.33 147.15 327.60 147.22 C329.87 147.28 332.10 147.17 335.00 147.11 C337.90 147.05 341.00 146.83 345.00 146.87 C349.00 146.91 356.67 147.26 359.00 147.34" fill="none" stroke="#000" stroke-width="0.50" stroke-linejoin="round" stroke-linecap="round"/>
<path d="M282.50 146.59 C282.92 146.53 284.07 146.57 285.00 146.24 C285.93 145.91 287.13 145.15 288.10 144.60 C289.07 144.05 289.90 143.08 290.80 142.93 C291.70 142.77 292.48 143.42 293.50 143.67 C294.52 143.92 295.90 144.69 296.90 144.42 C297.90 144.15 298.03 142.67 299.50 142.06 C300.97 141.45 303.95 140.95 305.70 140.77 C307.45 140.59 308.70 140.84 310.00 140.97 C311.30 141.10 312.47 141.24 313.50 141.54 C314.53 141.84 315.32 141.87 316.20 142.78 C317.08 143.68 317.93 146.25 318.80 146.96 C319.67 147.67 319.93 146.91 321.40 147.03 C322.87 147.15 325.33 147.72 327.60 147.68 C329.87 147.64 332.10 146.88 335.00 146.80 C337.90 146.73 341.00 147.15 345.00 147.25 C349.00 147.34 356.67 147.36 359.00 147.38" fill="none" stroke="#000" stroke-width="0.50" stroke-linejoin="round" stroke-linecap="round"/>
<path d="M27.00 181.60 C27.20 181.77 27.82 182.17 28.20 182.60 C28.58 183.03 28.92 183.65 29.30 184.20 C29.68 184.75 30.10 185.40 30.50 185.90 C30.90 186.40 31.25 186.87 31.70 187.20 C32.15 187.53 32.65 187.75 33.20 187.90 C33.75 188.05 33.98 188.08 35.00 188.10 C36.02 188.12 36.55 188.07 39.30 188.00 C42.05 187.93 46.90 187.77 51.50 187.70 C56.10 187.63 62.73 187.63 66.90 187.60 C71.07 187.57 74.63 187.57 76.50 187.50 C78.37 187.43 77.60 187.42 78.10 187.20 C78.60 186.98 79.05 186.63 79.50 186.20 C79.95 185.77 80.35 185.13 80.80 184.60 C81.25 184.07 81.78 183.38 82.20 183.00 C82.62 182.62 82.93 182.43 83.30 182.30 C83.67 182.17 84.03 182.12 84.40 182.20 C84.77 182.28 85.13 182.50 85.50 182.80 C85.87 183.10 86.23 183.53 86.60 184.00 C86.97 184.47 87.33 185.05 87.70 185.60 C88.07 186.15 88.42 186.77 88.80 187.30 C89.18 187.83 89.48 188.25 90.00 188.80 C90.52 189.35 91.58 190.30 91.90 190.60" fill="none" stroke="#111" stroke-width="1.10" stroke-linejoin="round" stroke-linecap="round"/>
<path d="M35.20 180.10 C35.37 180.48 35.87 181.63 36.20 182.40 C36.53 183.17 36.85 184.00 37.20 184.70 C37.55 185.40 37.95 186.05 38.30 186.60 C38.65 187.15 39.13 187.77 39.30 188.00" fill="none" stroke="#222" stroke-width="0.70" stroke-linejoin="round" stroke-linecap="round"/>
<path d="M152.00 183.78 C152.55 183.54 154.07 182.63 155.30 182.32 C156.53 182.01 158.05 181.73 159.40 181.92 C160.75 182.11 162.18 182.77 163.40 183.46 C164.62 184.15 165.60 185.15 166.70 186.06 C167.80 186.97 169.05 188.21 170.00 188.92 C170.95 189.63 171.45 190.25 172.40 190.32 C173.35 190.38 174.60 189.90 175.70 189.33 C176.80 188.75 177.92 187.51 179.00 186.88 C180.08 186.24 181.12 185.97 182.20 185.53 C183.28 185.08 184.95 184.42 185.50 184.20" fill="none" stroke="#000" stroke-width="0.50" stroke-linejoin="round" stroke-linecap="round"/>
<path d="M148.70 185.62 C149.25 185.26 150.90 183.95 152.00 183.46 C153.10 182.96 154.07 182.84 155.30 182.65 C156.53 182.46 158.05 182.22 159.40 182.32 C160.75 182.42 162.18 182.67 163.40 183.23 C164.62 183.79 165.60 184.73 166.70 185.69 C167.80 186.65 169.05 188.16 170.00 188.99 C170.95 189.82 171.45 190.55 172.40 190.66 C173.35 190.77 174.60 190.30 175.70 189.64 C176.80 188.98 177.92 187.43 179.00 186.69 C180.08 185.95 181.12 185.61 182.20 185.20 C183.28 184.78 184.95 184.36 185.50 184.19" fill="none" stroke="#000" stroke-width="0.50" stroke-linejoin="round" stroke-linecap="round"/>
<path d="M148.70 186.66 C149.25 186.08 150.90 183.86 152.00 183.17 C153.10 182.47 154.07 182.44 155.30 182.50 C156.53 182.56 158.05 183.26 159.40 183.51 C160.75 183.76 162.18 183.61 163.40 183.98 C164.62 184.35 165.60 184.87 166.70 185.74 C167.80 186.60 169.05 188.28 170.00 189.19 C170.95 190.09 171.45 190.98 172.40 191.17 C173.35 191.37 174.60 190.99 175.70 190.33 C176.80 189.67 177.92 188.00 179.00 187.22 C180.08 186.44 181.12 186.10 182.20 185.65 C183.28 185.20 184.95 184.70 185.50 184.51" fill="none" stroke="#000" stroke-width="0.50" stroke-linejoin="round" stroke-linecap="round"/>
<path d="M145.50 188.05 C146.03 187.79 147.62 187.23 148.70 186.47 C149.78 185.72 150.90 184.19 152.00 183.54 C153.10 182.89 154.07 182.61 155.30 182.58 C156.53 182.56 158.05 183.01 159.40 183.41 C160.75 183.80 162.18 184.35 163.40 184.95 C164.62 185.54 165.60 186.20 166.70 186.96 C167.80 187.73 169.05 188.85 170.00 189.52 C170.95 190.18 171.45 190.83 172.40 190.95 C173.35 191.07 174.60 190.78 175.70 190.21 C176.80 189.64 177.92 188.30 179.00 187.54 C180.08 186.79 181.12 186.21 182.20 185.68 C183.28 185.16 184.95 184.61 185.50 184.40" fill="none" stroke="#000" stroke-width="0.50" stroke-linejoin="round" stroke-linecap="round"/>
<path d="M145.50 187.83 C146.03 187.61 147.62 187.16 148.70 186.54 C149.78 185.93 150.90 184.66 152.00 184.14 C153.10 183.62 154.07 183.43 155.30 183.41 C156.53 183.38 158.05 183.72 159.40 183.99 C160.75 184.25 162.18 184.54 163.40 184.98 C164.62 185.42 165.60 185.94 166.70 186.62 C167.80 187.30 169.05 188.39 170.00 189.07 C170.95 189.75 171.45 190.47 172.40 190.68 C173.35 190.88 174.60 190.74 175.70 190.32 C176.80 189.89 177.92 188.80 179.00 188.14 C180.08 187.48 181.12 186.92 182.20 186.36 C183.28 185.80 184.20 185.48 185.50 184.77 C186.80 184.07 189.25 182.58 190.00 182.14" fill="none" stroke="#000" stroke-width="0.50" stroke-linejoin="round" stroke-linecap="round"/>
<path d="M152.00 185.81 C152.55 185.52 154.07 184.46 155.30 184.09 C156.53 183.72 158.05 183.40 159.40 183.58 C160.75 183.76 162.18 184.46 163.40 185.14 C164.62 185.83 165.60 186.83 166.70 187.69 C167.80 188.56 169.05 189.71 170.00 190.34 C170.95 190.98 171.45 191.44 172.40 191.52 C173.35 191.61 174.60 191.29 175.70 190.84 C176.80 190.39 177.92 189.46 179.00 188.84 C180.08 188.21 181.12 187.71 182.20 187.08 C183.28 186.44 184.20 185.86 185.50 185.02 C186.80 184.19 189.25 182.57 190.00 182.08" fill="none" stroke="#000" stroke-width="0.50" stroke-linejoin="round" stroke-linecap="round"/>
<path d="M152.00 185.95 C152.55 185.78 154.07 185.22 155.30 184.96 C156.53 184.69 158.05 184.31 159.40 184.35 C160.75 184.39 162.18 184.63 163.40 185.20 C164.62 185.78 165.60 186.84 166.70 187.80 C167.80 188.75 169.05 190.20 170.00 190.94 C170.95 191.68 171.45 192.15 172.40 192.22 C173.35 192.29 174.60 191.88 175.70 191.34 C176.80 190.79 177.92 189.64 179.00 188.96 C180.08 188.29 181.12 187.86 182.20 187.26 C183.28 186.66 184.95 185.68 185.50 185.37" fill="none" stroke="#000" stroke-width="0.50" stroke-linejoin="round" stroke-linecap="round"/>
<path d="M151.20 190.10 C151.47 189.48 152.53 187.02 152.80 186.40" fill="none" stroke="#000" stroke-width="0.50" stroke-linejoin="round" stroke-linecap="round"/>
<path d="M146.00 189.50 C146.50 189.28 148.08 188.70 149.00 188.20 C149.92 187.70 151.08 186.78 151.50 186.50" fill="none" stroke="#000" stroke-width="0.50" stroke-linejoin="round" stroke-linecap="round"/>
<path d="M262.50 184.34 C262.90 184.74 263.95 186.20 264.90 186.72 C265.85 187.23 266.97 187.20 268.20 187.45 C269.43 187.70 270.93 188.06 272.30 188.22 C273.67 188.38 275.03 188.48 276.40 188.40 C277.77 188.33 279.15 188.06 280.50 187.79 C281.85 187.51 283.15 187.11 284.50 186.77 C285.85 186.43 287.23 186.07 288.60 185.75 C289.97 185.42 291.33 185.11 292.70 184.81 C294.07 184.52 295.43 184.25 296.80 183.99 C298.17 183.73 299.40 183.62 300.90 183.26 C302.40 182.89 304.17 182.35 305.80 181.81 C307.43 181.27 309.88 180.31 310.70 180.01" fill="none" stroke="#000" stroke-width="0.50" stroke-linejoin="round" stroke-linecap="round"/>
<path d="M262.50 184.77 C262.90 185.27 263.95 187.23 264.90 187.79 C265.85 188.34 266.97 188.13 268.20 188.10 C269.43 188.07 270.93 187.83 272.30 187.62 C273.67 187.40 275.03 187.05 276.40 186.81 C277.77 186.57 279.15 186.33 280.50 186.18 C281.85 186.02 283.15 185.96 284.50 185.89 C285.85 185.83 287.23 185.87 288.60 185.78 C289.97 185.70 291.33 185.59 292.70 185.38 C294.07 185.17 295.43 184.85 296.80 184.52 C298.17 184.20 300.22 183.62 300.90 183.44" fill="none" stroke="#000" stroke-width="0.50" stroke-linejoin="round" stroke-linecap="round"/>
<path d="M262.50 185.04 C262.90 185.63 263.95 188.02 264.90 188.59 C265.85 189.16 266.97 188.57 268.20 188.44 C269.43 188.31 270.93 187.79 272.30 187.81 C273.67 187.84 275.03 188.48 276.40 188.57 C277.77 188.67 279.15 188.70 280.50 188.38 C281.85 188.07 283.15 187.12 284.50 186.67 C285.85 186.22 287.23 185.85 288.60 185.68 C289.97 185.52 291.33 185.81 292.70 185.68 C294.07 185.56 295.43 185.30 296.80 184.94 C298.17 184.59 299.40 184.06 300.90 183.56 C302.40 183.06 304.17 182.50 305.80 181.94 C307.43 181.38 309.88 180.49 310.70 180.20" fill="none" stroke="#000" stroke-width="0.50" stroke-linejoin="round" stroke-linecap="round"/>
<path d="M264.90 188.44 C265.45 188.58 266.97 189.10 268.20 189.25 C269.43 189.39 270.93 189.42 272.30 189.32 C273.67 189.22 275.03 188.95 276.40 188.64 C277.77 188.33 279.15 187.84 280.50 187.46 C281.85 187.08 283.15 186.67 284.50 186.36 C285.85 186.04 287.23 185.81 288.60 185.59 C289.97 185.37 291.33 185.22 292.70 185.04 C294.07 184.85 295.43 184.69 296.80 184.48 C298.17 184.27 300.22 183.89 300.90 183.78" fill="none" stroke="#000" stroke-width="0.50" stroke-linejoin="round" stroke-linecap="round"/>
<path d="M262.50 185.31 C262.90 185.85 263.95 188.07 264.90 188.57 C265.85 189.07 266.97 188.17 268.20 188.31 C269.43 188.46 270.93 189.18 272.30 189.43 C273.67 189.68 275.03 190.08 276.40 189.81 C277.77 189.54 279.15 188.29 280.50 187.82 C281.85 187.36 283.15 187.13 284.50 187.01 C285.85 186.89 287.23 187.31 288.60 187.11 C289.97 186.92 291.33 186.27 292.70 185.85 C294.07 185.43 295.43 184.88 296.80 184.59 C298.17 184.29 299.40 184.48 300.90 184.09 C302.40 183.70 304.17 182.91 305.80 182.24 C307.43 181.56 309.88 180.41 310.70 180.05" fill="none" stroke="#000" stroke-width="0.50" stroke-linejoin="round" stroke-linecap="round"/>
<path d="M272.30 189.87 C272.98 189.97 275.03 190.66 276.40 190.51 C277.77 190.35 279.15 189.48 280.50 188.94 C281.85 188.40 283.15 187.59 284.50 187.27 C285.85 186.95 287.23 187.11 288.60 187.00 C289.97 186.89 291.33 186.93 292.70 186.63 C294.07 186.34 295.43 185.68 296.80 185.22 C298.17 184.77 299.40 184.37 300.90 183.90 C302.40 183.43 304.98 182.64 305.80 182.38" fill="none" stroke="#000" stroke-width="0.50" stroke-linejoin="round" stroke-linecap="round"/>
<path d="M272.30 189.31 C272.98 189.28 275.03 189.19 276.40 189.14 C277.77 189.09 279.15 189.11 280.50 189.00 C281.85 188.90 283.15 188.76 284.50 188.52 C285.85 188.27 287.23 187.92 288.60 187.54 C289.97 187.15 291.33 186.64 292.70 186.21 C294.07 185.78 295.43 185.32 296.80 184.94 C298.17 184.57 300.22 184.12 300.90 183.96" fill="none" stroke="#000" stroke-width="0.50" stroke-linejoin="round" stroke-linecap="round"/>
<path d="M272.30 190.19 C272.98 190.32 275.03 191.03 276.40 190.96 C277.77 190.89 279.15 190.28 280.50 189.76 C281.85 189.24 283.15 188.28 284.50 187.83 C285.85 187.39 287.23 187.26 288.60 187.09 C289.97 186.93 291.33 187.09 292.70 186.86 C294.07 186.62 296.12 185.90 296.80 185.70" fill="none" stroke="#000" stroke-width="0.50" stroke-linejoin="round" stroke-linecap="round"/>
<path d="M272.30 191.83 C272.98 191.78 275.03 191.80 276.40 191.54 C277.77 191.29 279.15 190.75 280.50 190.29 C281.85 189.83 283.15 189.26 284.50 188.79 C285.85 188.32 287.23 187.86 288.60 187.45 C289.97 187.04 291.33 186.68 292.70 186.33 C294.07 185.98 296.12 185.51 296.80 185.34" fill="none" stroke="#000" stroke-width="0.50" stroke-linejoin="round" stroke-linecap="round"/>
<path d="M268.20 191.31 C268.88 191.18 270.93 190.66 272.30 190.51 C273.67 190.36 275.03 190.43 276.40 190.41 C277.77 190.39 279.15 190.58 280.50 190.40 C281.85 190.22 283.15 189.81 284.50 189.34 C285.85 188.88 287.23 188.11 288.60 187.62 C289.97 187.13 291.33 186.71 292.70 186.40 C294.07 186.09 296.12 185.87 296.80 185.76" fill="none" stroke="#000" stroke-width="0.50" stroke-linejoin="round" stroke-linecap="round"/>
<path d="M263.30 181.40 C263.43 181.83 263.83 183.12 264.10 184.00 C264.37 184.88 264.77 186.25 264.90 186.70" fill="none" stroke="#000" stroke-width="0.55" stroke-linejoin="round" stroke-linecap="round"/>
<path d="M286.60 180.20 C286.37 180.67 285.62 182.18 285.20 183.00 C284.78 183.82 284.28 184.75 284.10 185.10" fill="none" stroke="#000" stroke-width="0.55" stroke-linejoin="round" stroke-linecap="round"/>
<path d="M293.10 177.70 C292.75 178.25 291.75 179.90 291.00 181.00 C290.25 182.10 289.00 183.75 288.60 184.30" fill="none" stroke="#000" stroke-width="0.55" stroke-linejoin="round" stroke-linecap="round"/>
<path d="M307.50 179.80 C307.25 180.08 306.42 180.97 306.00 181.50 C305.58 182.03 305.17 182.75 305.00 183.00" fill="none" stroke="#000" stroke-width="0.55" stroke-linejoin="round" stroke-linecap="round"/>
<path d="M309.50 179.80 C309.08 180.17 308.08 181.27 307.00 182.00 C305.92 182.73 303.67 183.83 303.00 184.20" fill="none" stroke="#000" stroke-width="0.55" stroke-linejoin="round" stroke-linecap="round"/>
<path d="M290.00 183.50 C290.83 183.42 293.67 183.17 295.00 183.00 C296.33 182.83 297.50 182.58 298.00 182.50" fill="none" stroke="#000" stroke-width="0.55" stroke-linejoin="round" stroke-linecap="round"/>
<path d="M27.20 225.07 C27.55 225.57 28.68 227.08 29.30 228.06 C29.92 229.05 30.22 230.11 30.90 230.99 C31.58 231.86 32.45 232.83 33.40 233.33 C34.35 233.83 35.17 233.93 36.60 233.98 C38.03 234.03 40.10 233.67 42.00 233.61 C43.90 233.56 46.17 233.59 48.00 233.64 C49.83 233.69 51.62 234.01 53.00 233.91 C54.38 233.81 55.42 233.68 56.30 233.04 C57.18 232.40 57.77 231.23 58.30 230.05 C58.83 228.88 59.30 226.68 59.50 226.01" fill="none" stroke="#000" stroke-width="0.50" stroke-linejoin="round" stroke-linecap="round"/>
<path d="M29.30 228.73 C29.57 229.22 30.22 230.77 30.90 231.62 C31.58 232.47 32.45 233.36 33.40 233.83 C34.35 234.31 35.17 234.37 36.60 234.45 C38.03 234.53 40.10 234.34 42.00 234.31 C43.90 234.28 46.17 234.28 48.00 234.29 C49.83 234.30 51.62 234.53 53.00 234.37 C54.38 234.22 55.42 234.03 56.30 233.36 C57.18 232.69 57.77 231.55 58.30 230.37 C58.83 229.18 59.30 226.94 59.50 226.25" fill="none" stroke="#000" stroke-width="0.50" stroke-linejoin="round" stroke-linecap="round"/>
<path d="M29.30 229.08 C29.57 229.56 30.22 231.11 30.90 231.94 C31.58 232.77 32.45 233.58 33.40 234.06 C34.35 234.53 35.17 234.56 36.60 234.79 C38.03 235.01 40.10 235.34 42.00 235.40 C43.90 235.46 46.17 235.28 48.00 235.13 C49.83 234.99 51.62 234.83 53.00 234.56 C54.38 234.28 55.42 234.16 56.30 233.49 C57.18 232.82 57.97 231.01 58.30 230.52" fill="none" stroke="#000" stroke-width="0.50" stroke-linejoin="round" stroke-linecap="round"/>
<path d="M29.30 229.44 C29.57 229.95 30.22 231.60 30.90 232.53 C31.58 233.46 32.45 234.45 33.40 235.00 C34.35 235.55 35.17 235.74 36.60 235.83 C38.03 235.92 40.10 235.63 42.00 235.55 C43.90 235.48 46.17 235.39 48.00 235.35 C49.83 235.32 51.62 235.59 53.00 235.34 C54.38 235.09 55.42 234.63 56.30 233.87 C57.18 233.10 57.97 231.27 58.30 230.75" fill="none" stroke="#000" stroke-width="0.50" stroke-linejoin="round" stroke-linecap="round"/>
<path d="M57.50 234.40 C58.25 234.45 60.57 234.63 62.00 234.70 C63.43 234.77 65.15 234.85 66.10 234.80 C67.05 234.75 67.43 234.47 67.70 234.40" fill="none" stroke="#000" stroke-width="0.60" stroke-linejoin="round" stroke-linecap="round"/>
<path d="M66.10 228.20 C66.17 228.67 66.40 230.12 66.50 231.00 C66.60 231.88 66.50 232.93 66.70 233.50 C66.90 234.07 67.53 234.25 67.70 234.40" fill="none" stroke="#000" stroke-width="0.70" stroke-linejoin="round" stroke-linecap="round"/>
<path d="M145,229.2 C146,231 148,232.6 151,234.0 L151,235.4 C148,235 146,234 145,232.4 Z" fill="#000"/>
<path d="M147.80 231.84 C148.33 232.13 148.97 233.18 151.00 233.56 C153.03 233.93 156.83 233.92 160.00 234.07 C163.17 234.22 166.82 234.38 170.00 234.44 C173.18 234.50 176.37 234.43 179.10 234.44 C181.83 234.45 185.18 234.50 186.40 234.51" fill="none" stroke="#000" stroke-width="0.55" stroke-linejoin="round" stroke-linecap="round"/>
<path d="M145.00 229.58 C145.47 230.03 146.80 231.53 147.80 232.25 C148.80 232.98 148.97 233.55 151.00 233.93 C153.03 234.32 156.83 234.41 160.00 234.55 C163.17 234.70 166.82 234.79 170.00 234.79 C173.18 234.79 176.37 234.55 179.10 234.55 C181.83 234.56 185.18 234.79 186.40 234.83" fill="none" stroke="#000" stroke-width="0.55" stroke-linejoin="round" stroke-linecap="round"/>
<path d="M145.00 229.57 C145.47 230.04 146.80 231.63 147.80 232.43 C148.80 233.23 148.97 233.94 151.00 234.35 C153.03 234.77 156.83 234.85 160.00 234.91 C163.17 234.97 166.82 234.72 170.00 234.72 C173.18 234.72 176.37 234.87 179.10 234.92 C181.83 234.98 185.18 235.03 186.40 235.05" fill="none" stroke="#000" stroke-width="0.55" stroke-linejoin="round" stroke-linecap="round"/>
<path d="M147.80 232.82 C148.33 233.11 148.97 234.13 151.00 234.55 C153.03 234.97 156.83 235.19 160.00 235.32 C163.17 235.45 166.82 235.37 170.00 235.33 C173.18 235.30 176.37 235.11 179.10 235.11 C181.83 235.10 184.12 235.34 186.40 235.30 C188.68 235.25 191.73 234.92 192.80 234.85" fill="none" stroke="#000" stroke-width="0.55" stroke-linejoin="round" stroke-linecap="round"/>
<path d="M150.20 231.20 C150.30 231.50 150.58 232.53 150.80 233.00 C151.02 233.47 151.38 233.83 151.50 234.00" fill="none" stroke="#000" stroke-width="0.60" stroke-linejoin="round" stroke-linecap="round"/>
<path d="M262.20 224.06 C262.43 224.55 263.07 226.11 263.60 227.00 C264.13 227.88 264.67 228.69 265.40 229.37 C266.13 230.04 266.97 230.60 268.00 231.02 C269.03 231.45 270.25 231.67 271.60 231.92 C272.95 232.16 274.62 232.44 276.10 232.50 C277.58 232.56 279.02 232.41 280.50 232.28 C281.98 232.15 283.50 231.92 285.00 231.71 C286.50 231.50 288.32 231.41 289.50 231.01 C290.68 230.60 291.28 230.07 292.10 229.29 C292.92 228.51 293.80 227.42 294.40 226.33 C295.00 225.24 295.18 224.14 295.70 222.74 C296.22 221.34 297.20 218.72 297.50 217.92" fill="none" stroke="#000" stroke-width="0.65" stroke-linejoin="round" stroke-linecap="round"/>
<path d="M263.60 227.34 C263.90 227.78 264.67 229.24 265.40 229.99 C266.13 230.75 266.97 231.39 268.00 231.85 C269.03 232.30 270.25 232.52 271.60 232.73 C272.95 232.95 274.62 233.12 276.10 233.14 C277.58 233.15 279.02 232.97 280.50 232.83 C281.98 232.68 283.50 232.52 285.00 232.27 C286.50 232.02 288.32 231.79 289.50 231.34 C290.68 230.89 291.28 230.38 292.10 229.57 C292.92 228.77 293.80 227.62 294.40 226.52 C295.00 225.41 295.48 223.54 295.70 222.94" fill="none" stroke="#000" stroke-width="0.65" stroke-linejoin="round" stroke-linecap="round"/>
<path d="M263.60 227.56 C263.90 228.03 264.67 229.57 265.40 230.36 C266.13 231.14 266.97 231.80 268.00 232.27 C269.03 232.74 270.25 232.97 271.60 233.18 C272.95 233.38 274.62 233.52 276.10 233.51 C277.58 233.49 279.02 233.25 280.50 233.09 C281.98 232.93 283.50 232.78 285.00 232.53 C286.50 232.28 288.32 232.03 289.50 231.58 C290.68 231.13 291.28 230.66 292.10 229.84 C292.92 229.03 293.80 227.83 294.40 226.71 C295.00 225.59 295.48 223.72 295.70 223.13" fill="none" stroke="#000" stroke-width="0.65" stroke-linejoin="round" stroke-linecap="round"/>
<path d="M279.60 231.90 C280.00 231.52 281.25 230.28 282.00 229.60 C282.75 228.92 283.75 228.10 284.10 227.80" fill="none" stroke="#000" stroke-width="0.55" stroke-linejoin="round" stroke-linecap="round"/>
<path d="M281.40 232.30 C281.75 231.95 282.83 230.87 283.50 230.20 C284.17 229.53 285.08 228.62 285.40 228.30" fill="none" stroke="#000" stroke-width="0.55" stroke-linejoin="round" stroke-linecap="round"/>
<text x="133.6" y="37.1" class="wt" text-anchor="end">WT01</text>
<text x="253.9" y="37.1" class="wt" text-anchor="end">WT02</text>
<text x="370.2" y="37.1" class="wt" text-anchor="end">WT03</text>
<text x="133.6" y="83.1" class="wt" text-anchor="end">WT04</text>
<text x="253.9" y="83.1" class="wt" text-anchor="end">WT05</text>
<text x="370.2" y="83.1" class="wt" text-anchor="end">WT06</text>
<text x="133.6" y="127.1" class="wt" text-anchor="end">WT07</text>
<text x="253.9" y="127.1" class="wt" text-anchor="end">WT08</text>
<text x="370.2" y="127.1" class="wt" text-anchor="end">WT09</text>
<text x="133.6" y="170.3" class="wt" text-anchor="end">WT10</text>
<text x="253.9" y="170.3" class="wt" text-anchor="end">WT11</text>
<text x="370.2" y="170.3" class="wt" text-anchor="end">WT12</text>
<text x="133.6" y="215.0" class="wt" text-anchor="end">WT13</text>
<text x="253.9" y="215.0" class="wt" text-anchor="end">WT14</text>
<text x="370.2" y="215.0" class="wt" text-anchor="end">WT15</text>
<line x1="405.6" y1="24.4" x2="405.6" y2="241.8" stroke="#8a8a8a" stroke-width="1"/>
<line x1="405.1" y1="241.8" x2="681" y2="241.8" stroke="#a8a8a8" stroke-width="1.1"/>
<line x1="405.1" y1="24.4" x2="681.3" y2="24.4" stroke="#a8a8a8" stroke-width="1.1"/>
<line x1="680.8" y1="24.4" x2="680.8" y2="242.3" stroke="#a8a8a8" stroke-width="1.1"/>
<line x1="405.6" y1="241.70" x2="409.1" y2="241.70" stroke="#555" stroke-width="0.8"/>
<line x1="677.3" y1="241.70" x2="680.8" y2="241.70" stroke="#555" stroke-width="0.8"/>
<text x="401.9" y="245.10" class="bt" text-anchor="end">0</text>
<line x1="405.6" y1="169.35" x2="409.1" y2="169.35" stroke="#555" stroke-width="0.8"/>
<line x1="677.3" y1="169.35" x2="680.8" y2="169.35" stroke="#555" stroke-width="0.8"/>
<text x="401.9" y="172.75" class="bt" text-anchor="end">5</text>
<line x1="405.6" y1="97.00" x2="409.1" y2="97.00" stroke="#555" stroke-width="0.8"/>
<line x1="677.3" y1="97.00" x2="680.8" y2="97.00" stroke="#555" stroke-width="0.8"/>
<text x="401.9" y="100.40" class="bt" text-anchor="end">10</text>
<line x1="405.6" y1="24.65" x2="409.1" y2="24.65" stroke="#555" stroke-width="0.8"/>
<line x1="677.3" y1="24.65" x2="680.8" y2="24.65" stroke="#555" stroke-width="0.8"/>
<text x="401.9" y="28.05" class="bt" text-anchor="end">15</text>
<line x1="418.00" y1="24.4" x2="418.00" y2="27.9" stroke="#555" stroke-width="0.8"/>
<text x="418.00" y="253.8" class="bt" text-anchor="middle">0</text>
<line x1="456.52" y1="24.4" x2="456.52" y2="27.9" stroke="#555" stroke-width="0.8"/>
<text x="456.52" y="253.8" class="bt" text-anchor="middle">2</text>
<line x1="495.04" y1="24.4" x2="495.04" y2="27.9" stroke="#555" stroke-width="0.8"/>
<text x="495.04" y="253.8" class="bt" text-anchor="middle">4</text>
<line x1="533.56" y1="24.4" x2="533.56" y2="27.9" stroke="#555" stroke-width="0.8"/>
<text x="533.56" y="253.8" class="bt" text-anchor="middle">6</text>
<line x1="572.08" y1="24.4" x2="572.08" y2="27.9" stroke="#555" stroke-width="0.8"/>
<text x="572.08" y="253.8" class="bt" text-anchor="middle">8</text>
<line x1="610.60" y1="24.4" x2="610.60" y2="27.9" stroke="#555" stroke-width="0.8"/>
<text x="610.60" y="253.8" class="bt" text-anchor="middle">10</text>
<line x1="649.12" y1="24.4" x2="649.12" y2="27.9" stroke="#555" stroke-width="0.8"/>
<text x="649.12" y="253.8" class="bt" text-anchor="middle">12</text>
<rect x="418.00" y="53.59" width="19.26" height="188.11" fill="#646464" stroke="#2a2a2a" stroke-width="0.6"/>
<rect x="437.26" y="140.41" width="19.26" height="101.29" fill="#646464" stroke="#2a2a2a" stroke-width="0.6"/>
<rect x="456.52" y="169.35" width="19.26" height="72.35" fill="#646464" stroke="#2a2a2a" stroke-width="0.6"/>
<rect x="475.78" y="154.88" width="19.26" height="86.82" fill="#646464" stroke="#2a2a2a" stroke-width="0.6"/>
<rect x="495.04" y="169.35" width="19.26" height="72.35" fill="#646464" stroke="#2a2a2a" stroke-width="0.6"/>
<rect x="514.30" y="227.23" width="19.26" height="14.47" fill="#646464" stroke="#2a2a2a" stroke-width="0.6"/>
<rect x="533.56" y="227.23" width="19.26" height="14.47" fill="#646464" stroke="#2a2a2a" stroke-width="0.6"/>
<rect x="552.82" y="227.23" width="19.26" height="14.47" fill="#646464" stroke="#2a2a2a" stroke-width="0.6"/>
<rect x="572.08" y="212.76" width="19.26" height="28.94" fill="#646464" stroke="#2a2a2a" stroke-width="0.6"/>
<rect x="591.34" y="227.23" width="19.26" height="14.47" fill="#646464" stroke="#2a2a2a" stroke-width="0.6"/>
<rect x="610.60" y="212.76" width="19.26" height="28.94" fill="#646464" stroke="#2a2a2a" stroke-width="0.6"/>
<rect x="629.86" y="227.23" width="19.26" height="14.47" fill="#646464" stroke="#2a2a2a" stroke-width="0.6"/>
<rect x="649.12" y="227.23" width="19.26" height="14.47" fill="#646464" stroke="#2a2a2a" stroke-width="0.6"/>
<rect x="437.26" y="198.29" width="19.26" height="43.41" fill="#2cbf2c" stroke="#2a2a2a" stroke-width="0.6"/>
<rect x="456.52" y="212.76" width="19.26" height="28.94" fill="#2cbf2c" stroke="#2a2a2a" stroke-width="0.6"/>
<rect x="475.78" y="183.82" width="19.26" height="57.88" fill="#2cbf2c" stroke="#2a2a2a" stroke-width="0.6"/>
<rect x="495.04" y="198.29" width="19.26" height="43.41" fill="#2cbf2c" stroke="#2a2a2a" stroke-width="0.6"/>
<rect x="514.30" y="227.23" width="19.26" height="14.47" fill="#2cbf2c" stroke="#2a2a2a" stroke-width="0.6"/>
<rect x="533.56" y="227.23" width="19.26" height="14.47" fill="#2cbf2c" stroke="#2a2a2a" stroke-width="0.6"/>
<rect x="583.4" y="31.4" width="90.8" height="23.3" fill="#fff" stroke="#777" stroke-width="0.8"/>
<rect x="585.8" y="34.2" width="25.7" height="7.5" fill="#646464" stroke="#333" stroke-width="0.6"/>
<rect x="585.8" y="44.3" width="25.7" height="7.7" fill="#66ff66" stroke="#2a7a2a" stroke-width="0.6"/>
<text x="613.0" y="41.3" class="lg" textLength="37.9" lengthAdjust="spacingAndGlyphs">All whisltes</text>
<text x="613.0" y="51.3" class="lg" textLength="58.2" lengthAdjust="spacingAndGlyphs">Signature whistle</text>
<text x="8.3" y="13.0" class="pl" textLength="16.9" lengthAdjust="spacingAndGlyphs">(a)</text>
<text x="390.8" y="13.0" class="pl" textLength="17.4" lengthAdjust="spacingAndGlyphs">(b)</text>
<text x="200.2" y="265.2" class="ax" text-anchor="middle" style="font-size:8px">Seconds</text>
<text x="487.4" y="264.3" class="ax" textLength="95.2" lengthAdjust="spacingAndGlyphs">Interwhistle Interval [s]</text>
<text transform="translate(8.7,167.8) rotate(-90)" class="ax" textLength="62.8" lengthAdjust="spacingAndGlyphs">Frequency [kHz]</text>
<text transform="translate(387.6,166.2) rotate(-90)" class="ax" textLength="69.6" lengthAdjust="spacingAndGlyphs">Whistle type count</text>
</svg>
</body></html>
